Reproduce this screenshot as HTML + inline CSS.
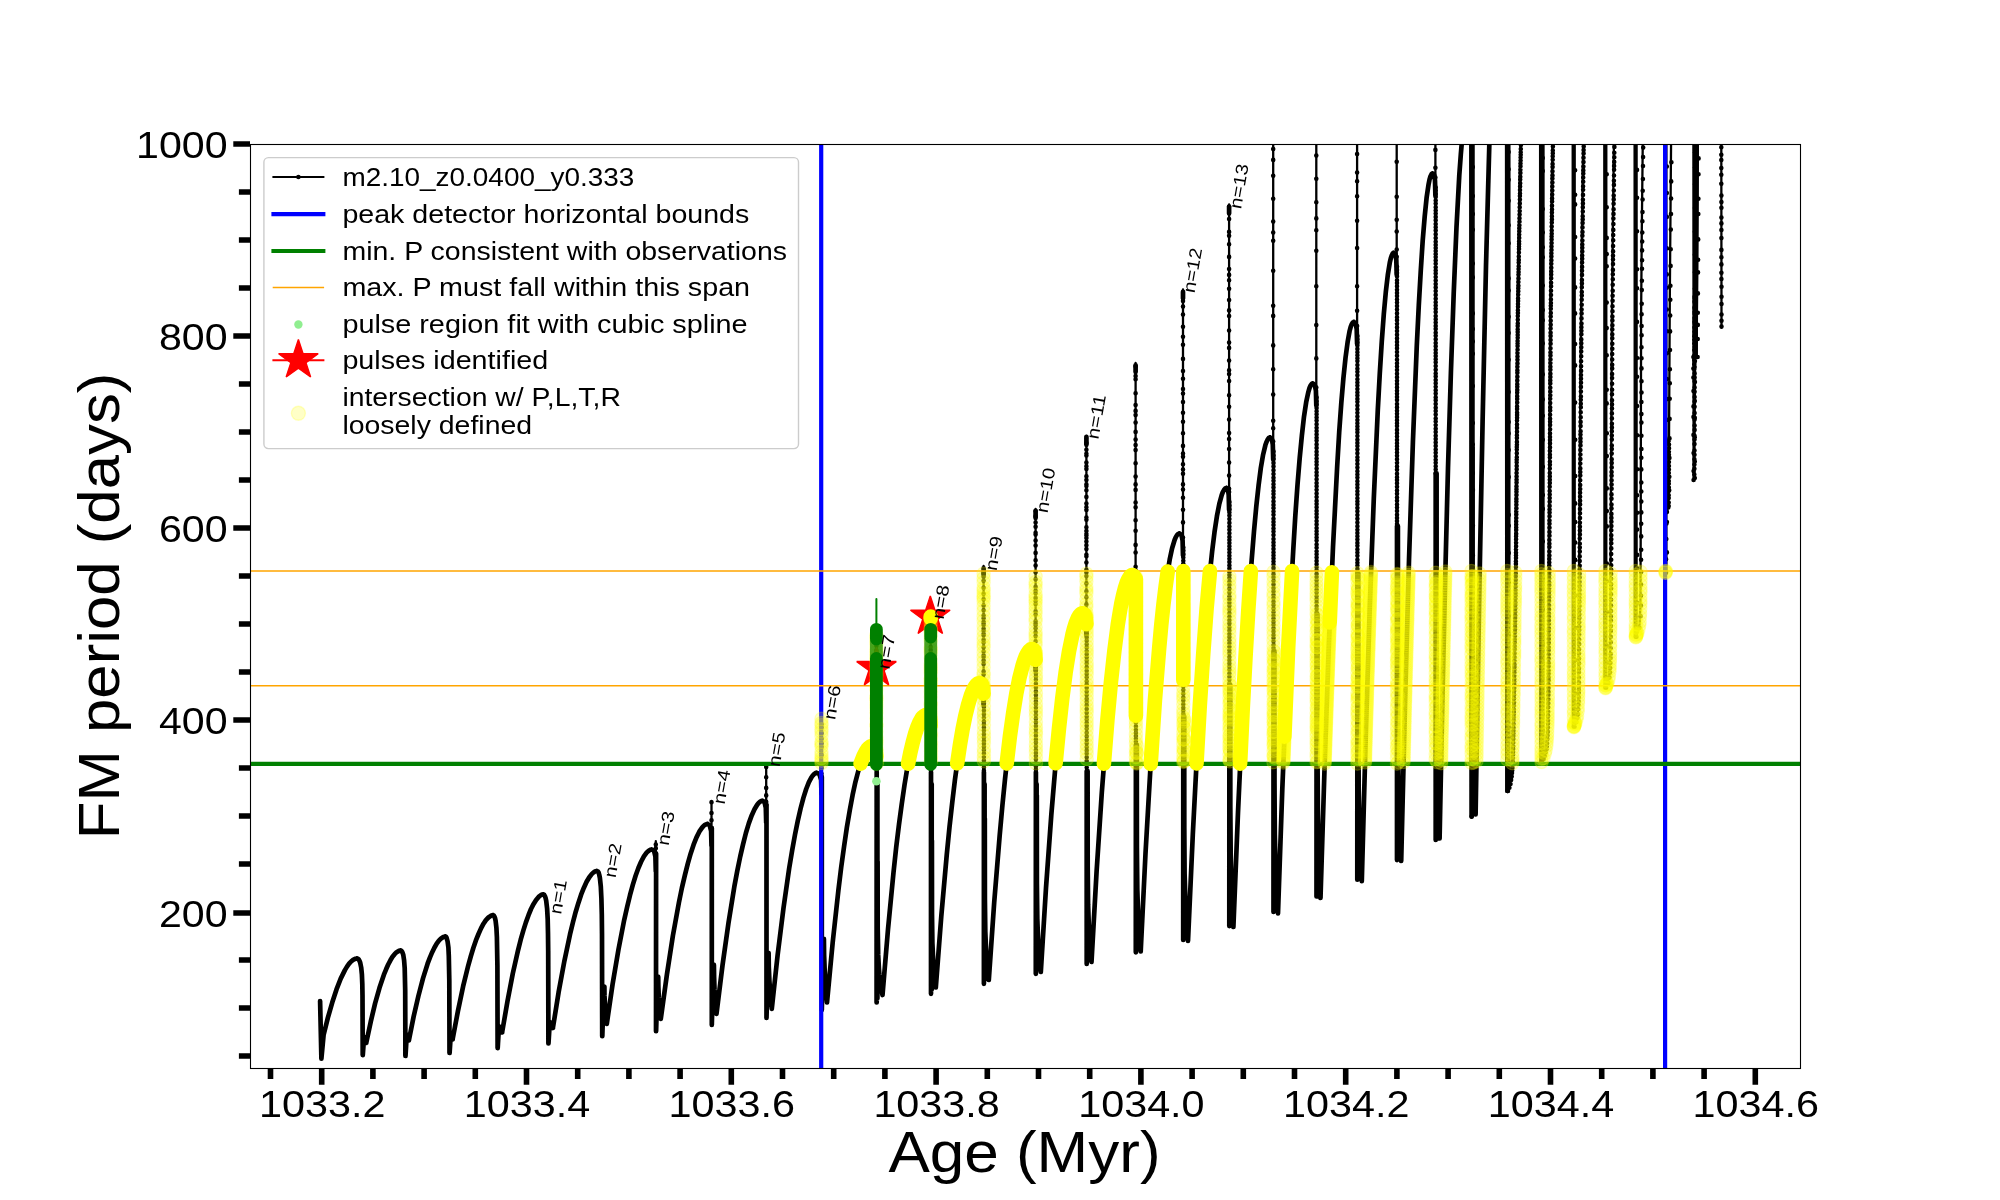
<!DOCTYPE html>
<html lang="en"><head><meta charset="utf-8"><title>FM period vs Age</title>
<style>html,body{margin:0;padding:0;background:#fff}svg{display:block}text{font-family:'Liberation Sans', sans-serif;fill:#000;filter:grayscale(1)}</style></head>
<body>
<svg width="2000" height="1200" viewBox="0 0 2000 1200">
<rect width="2000" height="1200" fill="#fff"/>
<defs><clipPath id="ax"><rect x="250.0" y="144.0" width="1550.0" height="924.0"/></clipPath></defs>
<g clip-path="url(#ax)">
<g fill="none" stroke="#000" stroke-linejoin="round" stroke-linecap="round">
<path stroke-width="4.7" d="M320.1 1001.0L321.4 1058.6M321.4 1058.6L323.6 1035.0M323.6 1035.0L327.9 1017.6L332.3 1002.3L336.5 989.4L340.7 978.6L344.9 970.1L347.0 966.6L349.1 963.7L351.1 961.5L353.1 959.9L355.1 958.9L356.9 958.5M356.9 958.5L357.9 958.8L358.8 959.6L359.5 960.9L360.2 962.7L361.2 967.6L361.9 974.6L362.3 983.8L362.5 995.2L362.7 1055.1M362.8 1055.1L364.1 1036.9L366.2 1042.9M366.2 1042.9L370.7 1021.9L375.1 1003.4L379.5 987.8L383.9 974.7L386.1 969.3L388.2 964.5L390.4 960.3L392.5 956.8L394.6 954.2L396.6 952.2L398.7 950.9L400.6 950.5M400.6 950.5L401.4 950.9L402.1 951.7L402.7 953.1L403.3 955.0L404.1 960.4L404.7 968.1L405.2 990.6L405.4 1056.0M405.5 1056.0L406.8 1034.3L408.9 1040.3M408.9 1040.3L413.6 1016.7L418.4 996.0L423.0 978.4L427.6 963.7L429.9 957.6L432.2 952.2L434.5 947.5L436.7 943.6L438.9 940.6L441.1 938.4L443.3 937.0L445.3 936.5M445.3 936.5L446.0 936.9L446.6 937.8L447.6 941.5L448.4 947.5L448.8 955.9L449.3 980.8L449.5 1053.0M449.6 1053.0L450.9 1033.4L452.6 1039.4M452.6 1039.4L457.9 1011.2L463.1 986.4L468.3 965.3L470.9 956.0L473.4 947.8L475.9 940.4L478.5 934.0L481.0 928.4L483.5 923.7L485.9 920.1L488.4 917.5L490.8 915.8L491.9 915.4L493.0 915.2M493.0 915.2L493.8 915.6L494.5 916.7L495.1 918.4L495.6 920.8L496.4 927.7L496.9 937.4L497.4 965.7L497.6 1048.1M497.7 1048.1L499.0 1026.4L502.1 1032.4M502.1 1032.4L507.5 1001.1L512.8 973.5L518.1 950.1L520.7 939.7L523.3 930.6L525.9 922.4L528.5 915.2L531.0 909.0L533.6 903.9L536.1 899.9L538.6 896.9L541.0 895.0L542.2 894.6L543.3 894.4M543.3 894.4L544.2 894.9L544.9 896.1L545.6 898.0L546.2 900.7L547.1 908.4L547.7 919.2L548.0 933.4L548.2 951.0L548.4 1043.4M548.5 1043.4L549.8 1022.0L552.9 1028.0M552.9 1028.0L558.6 992.3L564.4 960.9L570.0 934.4L572.9 922.5L575.6 912.2L578.4 902.9L581.1 894.7L583.9 887.7L586.6 881.8L589.3 877.2L591.9 873.9L593.3 872.6L594.6 871.7L595.8 871.2L597.0 871.0M597.0 871.0L597.9 871.5L598.7 872.8L599.3 875.0L599.9 878.0L600.8 886.5L601.4 898.5L601.8 914.2L602.0 933.8L602.2 1036.2M602.3 1036.2L603.3 1006.5L604.4 986.6L604.5 995.9L605.0 1005.2L605.8 1014.5L606.8 1023.8M606.8 1023.8L612.6 984.2L618.5 949.4L624.2 919.9L627.2 906.7L630.0 895.2L632.8 884.9L635.6 875.8L638.4 868.0L641.2 861.5L643.9 856.4L646.6 852.7L648.0 851.3L649.3 850.3L650.6 849.7L651.8 849.5M651.8 849.5L654.0 850.7L655.4 856.5L655.8 871.5M656.1 853.5L656.0 1031.2M656.1 1031.2L657.1 998.5L658.2 976.7L658.4 987.2L658.8 997.7L659.7 1008.3L660.8 1018.8M660.8 1018.8L666.9 974.6L672.9 935.6L678.9 902.7L681.9 887.9L684.9 875.1L687.8 863.6L690.7 853.4L693.6 844.7L696.5 837.4L699.3 831.7L702.1 827.6L703.5 826.0L704.9 824.9L706.2 824.3L707.5 824.0M707.5 824.0L709.7 825.2L711.1 831.0L711.5 846.0M711.8 828.0L711.8 1025.0M711.8 1025.0L712.8 988.8L713.9 964.7L714.1 977.0L714.5 989.2L715.4 1001.5L716.5 1013.8M716.5 1013.8L722.5 965.4L728.5 922.8L734.3 886.8L737.3 870.7L740.2 856.6L743.1 844.1L745.9 833.0L748.8 823.4L751.7 815.4L754.5 809.3L757.2 804.7L758.6 803.0L760.0 801.8L761.2 801.1L762.5 800.8M762.5 800.8L764.5 802.0L765.8 807.8L766.2 822.8M766.5 804.8L766.5 1018.0M766.5 1018.0L767.5 978.9L768.6 952.8L768.8 966.8L769.4 980.8L770.4 994.8L771.8 1008.8M771.8 1008.8L777.6 955.2L783.5 908.0L789.2 868.1L792.2 850.2L795.0 834.7L797.8 820.7L800.6 808.5L803.4 797.9L806.2 789.0L808.9 782.2L811.6 777.1L813.0 775.3L814.3 773.9L815.6 773.1L816.8 772.8M816.8 772.8L819.4 774.0L821.1 779.8L821.5 794.8M821.8 776.8L821.8 1010.0M821.8 1010.0L822.8 967.3L823.9 938.8L824.1 954.8L824.7 970.7L825.6 986.6L827.0 1002.5M827.0 1002.5L832.7 942.4L838.4 890.3L841.2 867.2L844.1 846.2L846.9 827.2L849.8 810.1L852.6 795.1L855.4 782.1L858.3 771.0L861.1 762.0L864.0 755.0L865.4 752.2L866.8 750.0L868.3 748.2L869.7 747.0L871.1 746.2L872.5 746.0M872.5 746.0L874.6 747.2L876.0 753.0L876.4 768.0M876.7 772.0L876.6 1002.5M877.4 784.0L877.4 998.5M876.7 1002.5L877.6 861.4L877.7 928.2L878.2 954.9L878.9 968.3L879.4 975.0L881.2 988.3L882.5 995.0M882.5 995.0L888.0 929.4L893.5 872.5L896.2 847.3L899.0 824.4L901.8 803.6L904.5 785.0L907.2 768.6L910.0 754.4L912.8 742.3L915.5 732.5L918.2 724.8L919.7 721.7L921.0 719.4L922.4 717.4L923.8 716.1L925.2 715.3L926.5 715.0M926.5 715.0L928.8 716.2L930.3 722.0L930.7 737.0M931.0 772.0L931.0 993.8M931.7 784.0L931.7 989.8M931.0 993.8L931.9 840.5L932.0 914.0L932.4 943.4L933.4 965.4L934.8 980.1L935.8 987.5M935.8 987.5L941.3 916.1L946.8 854.3L949.5 826.9L952.3 801.9L955.0 779.3L957.8 759.1L960.5 741.3L963.3 725.8L966.0 712.7L968.8 702.0L971.5 693.7L973.0 690.3L974.3 687.8L975.7 685.6L977.0 684.2L978.5 683.3L979.8 683.0M979.8 683.0L981.9 684.2L983.2 690.0L983.6 705.0M983.6 568.3L983.6 575.0M983.9 772.0L983.9 983.8M984.6 784.0L984.6 979.8M983.9 983.8L984.8 818.4L984.9 899.2L985.3 931.5L986.3 955.8L987.7 971.9L988.8 980.0M988.8 980.0L994.2 902.4L999.7 835.2L1002.4 805.4L1005.1 778.3L1007.8 753.7L1010.5 731.8L1013.3 712.4L1016.0 695.5L1018.7 681.3L1021.4 669.7L1024.1 660.6L1025.6 657.0L1026.9 654.2L1028.3 651.8L1029.6 650.3L1031.0 649.3L1032.3 649.0M1032.3 649.0L1034.1 650.2L1035.2 656.0L1035.6 671.0M1035.6 511.3L1035.6 518.0M1035.9 772.0L1035.8 973.8M1036.6 784.0L1036.6 969.8M1035.9 973.8L1036.8 795.2L1036.9 883.6L1037.3 918.9L1038.3 945.5L1039.7 963.2L1040.8 972.0M1040.8 972.0L1046.0 887.9L1051.3 815.0L1056.5 753.4L1059.1 726.7L1061.8 702.9L1064.4 681.9L1067.0 663.7L1069.6 648.2L1072.2 635.6L1074.8 625.8L1076.2 621.8L1077.5 618.8L1078.7 616.4L1080.1 614.6L1081.3 613.6L1082.7 613.2M1082.7 613.2L1084.7 614.4L1086.0 620.2L1086.4 635.2M1086.4 438.1L1086.4 444.8M1086.7 771.1L1086.7 964.0M1087.4 783.1L1087.4 960.0M1086.7 964.0L1087.6 771.1L1087.7 866.5L1088.1 904.7L1089.1 933.4L1090.5 952.5L1091.5 962.0M1091.5 962.0L1096.6 871.3L1101.8 792.7L1106.9 726.2L1109.4 697.4L1112.0 671.8L1114.6 649.1L1117.1 629.4L1119.7 612.8L1122.2 599.2L1124.8 588.6L1126.1 584.3L1127.4 581.0L1128.7 578.3L1129.9 576.5L1131.3 575.3L1132.5 575.0M1132.5 575.0L1134.2 576.2L1135.2 582.0L1135.6 597.0M1135.6 365.3L1135.6 372.0M1135.9 744.8L1135.8 952.3M1136.6 756.8L1136.6 948.3M1135.9 952.3L1136.8 744.8L1136.9 848.1L1137.3 889.5L1138.3 920.5L1139.7 941.2L1140.7 951.5M1140.7 951.5L1145.5 853.5L1150.4 768.6L1155.2 696.8L1157.6 665.8L1160.1 638.0L1162.5 613.5L1164.9 592.3L1167.3 574.3L1169.7 559.6L1172.1 548.2L1174.6 540.0L1175.8 537.1L1177.0 535.1L1178.2 533.9L1179.4 533.5M1179.4 533.5L1181.4 534.7L1182.6 540.5L1183.0 555.5M1183.0 291.8L1183.0 298.5M1183.3 716.4L1183.2 940.0M1184.0 728.4L1184.0 936.0M1183.3 940.0L1184.2 716.4L1184.3 828.6L1184.6 873.5L1185.6 907.1L1187.0 929.6L1188.0 940.8M1188.0 940.8L1192.8 834.7L1197.6 742.7L1202.4 664.9L1204.8 631.3L1207.2 601.2L1209.7 574.7L1212.1 551.7L1214.5 532.2L1216.9 516.3L1219.3 503.9L1221.7 495.1L1222.8 492.1L1224.1 489.8L1225.2 488.5L1226.5 488.0M1226.5 488.0L1227.9 489.2L1228.7 495.0L1229.1 510.0M1229.1 206.8L1229.1 213.5M1229.4 685.1L1229.3 926.1M1230.1 697.1L1230.1 922.1M1229.4 926.1L1230.3 685.1L1230.3 806.1L1230.7 854.4L1231.5 890.7L1232.6 914.9L1233.4 927.0M1233.4 927.0L1238.0 812.3L1242.6 712.8L1247.1 628.7L1249.4 592.4L1251.7 559.9L1254.0 531.2L1256.3 506.3L1258.6 485.3L1260.8 468.1L1263.1 454.7L1265.4 445.1L1266.5 441.9L1267.7 439.4L1268.8 438.0L1270.0 437.5M1270.0 437.5L1271.8 438.7L1272.8 444.5L1273.2 459.5M1273.5 651.0L1273.5 912.0M1274.2 663.0L1274.2 908.0M1273.5 912.0L1274.4 651.0L1274.5 782.2L1274.8 834.6L1275.8 874.0L1277.0 900.2L1278.0 913.3M1278.0 913.3L1282.3 789.1L1286.7 681.5L1291.0 590.5L1293.2 551.1L1295.3 516.0L1297.5 484.9L1299.7 458.0L1301.9 435.2L1304.0 416.6L1306.2 402.1L1308.4 391.8L1309.5 388.0L1310.5 385.6L1311.6 384.1L1312.2 383.6L1312.7 383.5M1312.7 383.5L1314.7 384.7L1315.9 390.5L1316.3 405.5M1316.6 614.3L1316.5 896.4M1317.3 626.3L1317.3 892.4M1316.6 896.4L1317.5 614.3L1317.5 756.2L1317.9 812.9L1318.6 855.4L1319.7 883.8L1320.5 898.0M1320.5 898.0L1324.7 763.0L1328.8 646.0L1333.0 547.0L1337.2 466.0L1339.2 432.2L1341.3 403.0L1343.4 378.2L1345.5 358.0L1347.6 342.2L1349.6 331.0L1350.7 326.9L1351.7 324.2L1352.8 322.5L1353.8 322.0M1353.8 322.0L1355.6 323.2L1356.7 329.0L1357.1 344.0M1357.4 573.0L1357.3 879.7M1358.1 585.0L1358.1 875.7M1357.4 879.7L1358.3 573.0L1358.4 727.1L1358.7 788.7L1359.6 835.0L1360.9 865.8L1361.8 881.2M1361.8 881.2L1365.8 733.9L1369.8 606.3L1373.8 498.3L1377.8 409.9L1379.8 373.1L1381.8 341.2L1383.8 314.2L1385.8 292.1L1387.8 274.9L1389.8 262.6L1390.8 258.2L1391.8 255.3L1392.8 253.4L1393.3 252.9L1393.8 252.8M1393.8 252.8L1395.4 254.0L1396.3 259.8L1396.7 274.8M1397.0 526.1L1397.0 860.1M1397.7 538.1L1397.7 856.1M1397.0 860.1L1397.9 526.1L1398.0 693.5L1398.3 760.5L1399.1 810.8L1400.3 844.3L1401.2 861.0M1401.2 861.0L1405.1 699.9L1409.0 560.2L1412.9 442.1L1416.8 345.4L1418.8 305.1L1420.8 270.2L1422.7 240.6L1424.7 216.5L1426.6 197.7L1428.6 184.2L1429.5 179.7L1430.5 176.2L1431.5 174.2L1432.0 173.7L1432.5 173.5M1432.5 173.5L1434.1 174.7L1435.0 180.5L1435.4 195.5M1435.7 473.4L1435.7 840.0M1436.4 485.4L1436.4 836.0M1435.7 840.0L1436.6 473.4L1436.6 656.0L1437.0 729.0L1437.7 783.7L1438.8 820.2L1439.6 838.5M1439.6 838.5L1442.4 699.5L1445.2 578.1L1448.0 468.0L1450.9 372.5L1453.7 293.6L1456.5 227.0L1459.3 175.0L1460.8 154.6L1462.2 138.0M1471.4 138.0L1471.6 816.6M1472.4 138.0L1472.4 812.6M1471.7 816.6L1472.6 446.7L1472.6 630.5L1473.0 704.1L1473.7 759.2L1474.8 796.0L1475.6 814.4M1475.6 814.4L1479.1 604.1L1482.6 421.2L1486.0 265.8L1489.5 138.0M1507.2 138.0L1507.4 791.0M1508.2 138.0L1508.2 787.0M1541.3 138.0L1541.5 762.0M1542.3 138.0L1542.3 758.0M1695.5 357.0L1696.7 138.0"/>
<path stroke-width="2.3" d="M655.8 853.5L655.8 841.2M711.5 828.0L711.5 800.8M766.2 804.8L766.2 765.0M821.5 776.8L821.5 716.0M876.4 750.0L876.4 632.0M876.7 760.0L876.7 772.0M930.7 719.0L930.7 613.0M931.0 729.0L931.0 772.0M983.6 687.0L983.6 566.0M983.9 697.0L983.9 772.0M1035.6 653.0L1035.6 509.0M1035.9 663.0L1035.9 772.0M1086.4 617.2L1086.4 435.8M1086.7 627.2L1086.7 771.1M1135.6 579.0L1135.6 363.0M1135.9 589.0L1135.9 744.8M1183.0 537.5L1183.0 289.5M1183.3 547.5L1183.3 716.4M1229.1 492.0L1229.1 204.5M1229.4 502.0L1229.4 685.1M1273.2 441.5L1273.2 136.0M1273.5 451.5L1273.5 651.0M1316.3 387.5L1316.3 136.0M1316.6 397.5L1316.6 614.3M1357.1 326.0L1357.1 136.0M1357.4 336.0L1357.4 573.0M1396.7 256.8L1396.7 136.0M1397.0 266.8L1397.0 526.1M1435.4 177.5L1435.4 136.0M1435.7 187.5L1435.7 473.4M1507.5 791.0L1509.7 785.4L1511.0 777.5L1511.3 775.6L1512.4 759.6L1513.5 699.6L1515.4 565.6L1517.3 317.6L1520.5 139.7M1541.6 762.0L1544.1 756.6L1546.0 748.8L1546.3 746.8L1547.4 728.9L1548.0 688.9L1550.2 318.9L1551.2 230.9L1552.5 138.9M1572.7 138.0L1572.9 726.7M1573.7 138.0L1573.8 726.7M1574.7 138.0L1574.7 725.7M1574.0 726.7L1575.6 723.0L1576.2 721.1L1577.6 713.2L1578.3 695.3L1580.0 441.3L1581.0 319.3L1582.0 229.3L1583.3 139.3M1604.3 138.0L1604.5 687.7M1605.3 138.0L1605.4 687.7M1606.3 138.0L1606.3 686.7M1605.6 687.7L1607.3 684.1L1607.9 682.2L1609.3 674.3L1610.1 654.3L1611.9 318.3L1612.8 230.4L1614.0 138.4M1634.6 138.0L1634.8 636.8M1635.6 138.0L1635.7 636.8M1636.6 138.0L1636.6 635.8M1635.9 636.8L1638.1 631.3L1639.6 623.4L1640.4 605.4L1640.7 539.4L1641.1 317.4L1641.8 229.4L1642.8 139.4M1664.4 138.0L1664.6 572.0M1665.4 138.0L1665.5 572.0M1666.4 138.0L1666.4 571.0M1665.5 572.8L1666.1 516.8L1667.3 508.9L1668.5 505.1L1668.8 479.1L1669.8 299.1L1671.1 139.1M1693.4 138.0L1693.6 480.0M1693.7 480.0L1694.6 295.2L1694.6 423.2L1694.3 478.0M1694.3 478.0L1694.5 138.0M1721.3 138.0L1721.5 327.7M1694.3 478.0L1696.6 138.0M1694.2 357.0L1695.4 138.0M1696.6 357.0L1697.8 138.0"/>
<path stroke-width="4.6" d="M655.8 853.5h0M655.8 848.2h0M655.8 844.6h0M711.5 828.0h0M711.5 820.3h0M711.5 813.0h0M711.5 802.3h0M766.2 804.8h0M766.2 801.9h0M766.2 795.4h0M766.2 787.9h0M766.2 777.2h0M766.2 767.0h0M821.5 776.8h0M821.5 773.7h0M821.5 768.0h0M821.5 765.7h0M821.5 755.0h0M821.5 746.9h0M821.5 743.4h0M821.5 738.8h0M821.5 733.3h0M821.5 727.6h0M821.5 724.3h0M876.4 750.0h0M876.4 748.9h0M876.4 746.7h0M876.4 744.6h0M876.4 740.5h0M876.4 735.3h0M876.4 732.3h0M876.4 727.2h0M876.4 721.8h0M876.4 716.5h0M876.4 713.9h0M876.4 712.0h0M876.4 710.0h0M876.4 708.2h0M876.4 706.3h0M876.4 702.5h0M876.4 697.5h0M876.4 692.8h0M876.4 689.7h0M876.4 685.8h0M876.4 681.3h0M876.4 679.9h0M876.4 676.0h0M876.4 671.0h0M876.4 666.5h0M876.4 662.2h0M876.4 659.1h0M876.4 657.3h0M876.4 652.8h0M876.4 650.4h0M876.4 645.8h0M876.4 640.5h0M876.4 637.8h0M876.4 635.0h0M876.7 760.0h0M876.7 763.6h0M876.7 767.1h0M876.7 770.3h0M930.7 719.0h0M930.7 715.5h0M930.7 710.3h0M930.7 705.6h0M930.7 704.0h0M930.7 702.5h0M930.7 699.6h0M930.7 698.3h0M930.7 696.3h0M930.7 695.0h0M930.7 691.0h0M930.7 686.6h0M930.7 681.6h0M930.7 679.9h0M930.7 675.8h0M930.7 671.8h0M930.7 670.2h0M930.7 665.3h0M930.7 660.0h0M930.7 658.1h0M930.7 652.9h0M930.7 650.1h0M930.7 647.0h0M930.7 641.6h0M930.7 636.9h0M930.7 635.2h0M930.7 632.3h0M930.7 629.0h0M930.7 626.6h0M930.7 624.7h0M930.7 622.3h0M930.7 618.1h0M930.7 617.1h0M930.7 613.7h0M931.0 729.0h0M931.0 731.9h0M931.0 735.0h0M931.0 738.2h0M931.0 741.4h0M931.0 745.1h0M931.0 748.3h0M931.0 751.7h0M931.0 754.8h0M931.0 758.0h0M931.0 760.9h0M931.0 764.1h0M931.0 767.0h0M931.0 770.6h0M983.6 687.0h0M983.6 679.4h0M983.6 674.5h0M983.6 671.5h0M983.6 663.9h0M983.6 660.5h0M983.6 656.9h0M983.6 655.5h0M983.6 651.6h0M983.6 647.2h0M983.6 642.6h0M983.6 639.9h0M983.6 635.3h0M983.6 633.9h0M983.6 630.8h0M983.6 628.8h0M983.6 624.9h0M983.6 623.2h0M983.6 621.7h0M983.6 618.3h0M983.6 615.5h0M983.6 610.3h0M983.6 605.5h0M983.6 599.3h0M983.6 593.7h0M983.6 587.7h0M983.6 580.7h0M983.6 576.8h0M983.6 573.3h0M983.9 697.0h0M983.9 700.4h0M983.9 703.7h0M983.9 707.1h0M983.9 710.6h0M983.9 714.3h0M983.9 717.8h0M983.9 721.4h0M983.9 724.3h0M983.9 727.4h0M983.9 730.5h0M983.9 734.2h0M983.9 737.4h0M983.9 740.9h0M983.9 743.8h0M983.9 746.7h0M983.9 749.9h0M983.9 753.4h0M983.9 757.0h0M983.9 760.6h0M983.9 763.8h0M983.9 767.2h0M983.9 770.6h0M1035.6 653.0h0M1035.6 649.1h0M1035.6 641.3h0M1035.6 636.1h0M1035.6 632.4h0M1035.6 628.3h0M1035.6 625.1h0M1035.6 623.4h0M1035.6 621.4h0M1035.6 614.6h0M1035.6 611.4h0M1035.6 604.0h0M1035.6 601.0h0M1035.6 597.9h0M1035.6 593.3h0M1035.6 590.7h0M1035.6 586.9h0M1035.6 579.3h0M1035.6 572.3h0M1035.6 565.6h0M1035.6 560.2h0M1035.6 552.9h0M1035.6 545.5h0M1035.6 540.6h0M1035.6 534.6h0M1035.6 532.9h0M1035.6 526.8h0M1035.6 522.5h0M1035.6 516.3h0M1035.6 510.7h0M1035.9 663.0h0M1035.9 666.8h0M1035.9 670.2h0M1035.9 673.7h0M1035.9 676.6h0M1035.9 679.8h0M1035.9 683.7h0M1035.9 687.4h0M1035.9 691.2h0M1035.9 695.1h0M1035.9 698.2h0M1035.9 701.2h0M1035.9 704.2h0M1035.9 707.7h0M1035.9 711.3h0M1035.9 715.1h0M1035.9 718.7h0M1035.9 722.3h0M1035.9 726.0h0M1035.9 729.3h0M1035.9 732.8h0M1035.9 735.7h0M1035.9 739.4h0M1035.9 742.5h0M1035.9 746.3h0M1035.9 749.9h0M1035.9 753.1h0M1035.9 756.1h0M1035.9 759.3h0M1035.9 762.8h0M1035.9 766.4h0M1035.9 769.4h0M1086.4 617.2h0M1086.4 615.4h0M1086.4 611.5h0M1086.4 604.4h0M1086.4 597.3h0M1086.4 591.2h0M1086.4 583.4h0M1086.4 576.0h0M1086.4 572.5h0M1086.4 569.9h0M1086.4 562.5h0M1086.4 556.3h0M1086.4 554.7h0M1086.4 549.1h0M1086.4 545.3h0M1086.4 541.5h0M1086.4 538.0h0M1086.4 535.5h0M1086.4 534.1h0M1086.4 530.9h0M1086.4 527.3h0M1086.4 519.7h0M1086.4 517.6h0M1086.4 510.0h0M1086.4 507.3h0M1086.4 503.6h0M1086.4 496.9h0M1086.4 490.2h0M1086.4 486.1h0M1086.4 484.4h0M1086.4 479.9h0M1086.4 476.2h0M1086.4 468.9h0M1086.4 466.2h0M1086.4 462.5h0M1086.4 455.4h0M1086.4 453.8h0M1086.4 449.8h0M1086.4 443.1h0M1086.4 436.8h0M1086.7 627.2h0M1086.7 630.8h0M1086.7 633.8h0M1086.7 637.5h0M1086.7 640.7h0M1086.7 644.2h0M1086.7 647.5h0M1086.7 651.1h0M1086.7 654.2h0M1086.7 657.3h0M1086.7 660.5h0M1086.7 663.5h0M1086.7 667.3h0M1086.7 670.8h0M1086.7 674.0h0M1086.7 677.3h0M1086.7 681.2h0M1086.7 684.6h0M1086.7 687.7h0M1086.7 691.5h0M1086.7 695.0h0M1086.7 698.9h0M1086.7 701.9h0M1086.7 705.3h0M1086.7 709.0h0M1086.7 712.8h0M1086.7 716.6h0M1086.7 719.5h0M1086.7 722.7h0M1086.7 725.7h0M1086.7 728.8h0M1086.7 732.7h0M1086.7 736.2h0M1086.7 740.0h0M1086.7 743.3h0M1086.7 747.0h0M1086.7 750.4h0M1086.7 753.6h0M1086.7 757.2h0M1086.7 761.1h0M1086.7 764.1h0M1086.7 767.6h0M1135.6 579.0h0M1135.6 570.2h0M1135.6 566.8h0M1135.6 552.5h0M1135.6 544.9h0M1135.6 530.8h0M1135.6 520.3h0M1135.6 507.2h0M1135.6 502.5h0M1135.6 489.9h0M1135.6 484.4h0M1135.6 476.6h0M1135.6 463.2h0M1135.6 450.1h0M1135.6 445.1h0M1135.6 439.6h0M1135.6 431.9h0M1135.6 422.6h0M1135.6 415.1h0M1135.6 410.9h0M1135.6 405.0h0M1135.6 393.2h0M1135.6 379.2h0M1135.6 376.0h0M1135.6 366.2h0M1135.9 589.0h0M1135.9 592.8h0M1135.9 595.9h0M1135.9 599.1h0M1135.9 602.5h0M1135.9 605.7h0M1135.9 608.6h0M1135.9 611.7h0M1135.9 614.8h0M1135.9 618.6h0M1135.9 622.2h0M1135.9 626.0h0M1135.9 629.1h0M1135.9 632.8h0M1135.9 635.8h0M1135.9 639.2h0M1135.9 642.7h0M1135.9 646.0h0M1135.9 649.8h0M1135.9 653.2h0M1135.9 656.7h0M1135.9 660.5h0M1135.9 663.5h0M1135.9 667.4h0M1135.9 670.9h0M1135.9 674.2h0M1135.9 677.9h0M1135.9 681.1h0M1135.9 685.0h0M1135.9 688.5h0M1135.9 691.7h0M1135.9 695.4h0M1135.9 698.7h0M1135.9 701.8h0M1135.9 705.5h0M1135.9 708.4h0M1135.9 712.1h0M1135.9 715.3h0M1135.9 718.8h0M1135.9 722.7h0M1135.9 726.2h0M1135.9 729.8h0M1135.9 733.0h0M1135.9 735.9h0M1135.9 738.8h0M1135.9 741.8h0M1183.0 537.5h0M1183.0 522.4h0M1183.0 509.7h0M1183.0 497.7h0M1183.0 489.6h0M1183.0 484.4h0M1183.0 473.7h0M1183.0 469.6h0M1183.0 464.3h0M1183.0 456.7h0M1183.0 453.6h0M1183.0 445.9h0M1183.0 433.2h0M1183.0 421.8h0M1183.0 412.8h0M1183.0 402.1h0M1183.0 393.5h0M1183.0 389.1h0M1183.0 378.8h0M1183.0 371.0h0M1183.0 358.9h0M1183.0 344.8h0M1183.0 336.7h0M1183.0 326.7h0M1183.0 314.6h0M1183.0 306.6h0M1183.0 301.0h0M1183.3 547.5h0M1183.3 550.6h0M1183.3 554.3h0M1183.3 557.6h0M1183.3 560.7h0M1183.3 563.7h0M1183.3 567.4h0M1183.3 571.1h0M1183.3 574.7h0M1183.3 578.0h0M1183.3 581.5h0M1183.3 584.6h0M1183.3 588.5h0M1183.3 591.7h0M1183.3 595.3h0M1183.3 599.0h0M1183.3 602.7h0M1183.3 606.1h0M1183.3 609.3h0M1183.3 612.7h0M1183.3 615.8h0M1183.3 619.5h0M1183.3 622.8h0M1183.3 626.5h0M1183.3 629.7h0M1183.3 632.9h0M1183.3 636.1h0M1183.3 639.4h0M1183.3 642.5h0M1183.3 645.4h0M1183.3 649.0h0M1183.3 652.2h0M1183.3 655.3h0M1183.3 658.5h0M1183.3 661.9h0M1183.3 665.2h0M1183.3 668.8h0M1183.3 672.3h0M1183.3 675.6h0M1183.3 679.4h0M1183.3 683.2h0M1183.3 686.2h0M1183.3 689.9h0M1183.3 693.7h0M1183.3 697.4h0M1183.3 700.4h0M1183.3 704.2h0M1183.3 707.7h0M1183.3 710.6h0M1183.3 713.5h0M1229.1 492.0h0M1229.1 488.8h0M1229.1 475.6h0M1229.1 462.6h0M1229.1 449.0h0M1229.1 439.1h0M1229.1 433.0h0M1229.1 419.5h0M1229.1 406.7h0M1229.1 395.3h0M1229.1 381.1h0M1229.1 374.1h0M1229.1 370.3h0M1229.1 360.6h0M1229.1 347.9h0M1229.1 342.6h0M1229.1 330.5h0M1229.1 316.0h0M1229.1 310.4h0M1229.1 300.0h0M1229.1 288.8h0M1229.1 280.2h0M1229.1 274.9h0M1229.1 269.0h0M1229.1 256.9h0M1229.1 244.2h0M1229.1 235.7h0M1229.1 231.9h0M1229.1 219.0h0M1229.1 206.6h0M1229.4 502.0h0M1229.4 505.5h0M1229.4 509.4h0M1229.4 512.4h0M1229.4 515.4h0M1229.4 519.1h0M1229.4 522.9h0M1229.4 526.5h0M1229.4 529.7h0M1229.4 533.2h0M1229.4 536.9h0M1229.4 539.9h0M1229.4 543.1h0M1229.4 546.2h0M1229.4 549.3h0M1229.4 552.6h0M1229.4 555.7h0M1229.4 558.8h0M1229.4 561.9h0M1229.4 565.4h0M1229.4 568.4h0M1229.4 572.0h0M1229.4 575.1h0M1229.4 578.0h0M1229.4 581.8h0M1229.4 584.9h0M1229.4 588.8h0M1229.4 592.6h0M1229.4 596.4h0M1229.4 599.4h0M1229.4 602.7h0M1229.4 605.7h0M1229.4 609.6h0M1229.4 613.3h0M1229.4 616.8h0M1229.4 620.2h0M1229.4 623.4h0M1229.4 627.2h0M1229.4 630.5h0M1229.4 634.1h0M1229.4 637.1h0M1229.4 640.2h0M1229.4 643.2h0M1229.4 646.8h0M1229.4 650.2h0M1229.4 653.3h0M1229.4 657.1h0M1229.4 660.2h0M1229.4 663.5h0M1229.4 666.6h0M1229.4 669.7h0M1229.4 673.5h0M1229.4 676.7h0M1229.4 679.8h0M1229.4 683.2h0M1273.2 441.5h0M1273.2 428.3h0M1273.2 420.8h0M1273.2 394.6h0M1273.2 369.2h0M1273.2 345.4h0M1273.2 315.9h0M1273.2 305.7h0M1273.2 270.8h0M1273.2 240.8h0M1273.2 232.5h0M1273.2 221.6h0M1273.2 198.8h0M1273.2 175.8h0M1273.2 159.9h0M1273.2 149.1h0M1273.5 451.5h0M1273.5 455.4h0M1273.5 459.1h0M1273.5 462.9h0M1273.5 466.4h0M1273.5 470.2h0M1273.5 474.0h0M1273.5 477.7h0M1273.5 480.7h0M1273.5 484.2h0M1273.5 487.4h0M1273.5 491.0h0M1273.5 494.1h0M1273.5 497.6h0M1273.5 501.4h0M1273.5 504.9h0M1273.5 508.1h0M1273.5 511.5h0M1273.5 514.8h0M1273.5 518.7h0M1273.5 521.9h0M1273.5 525.1h0M1273.5 528.6h0M1273.5 531.6h0M1273.5 535.1h0M1273.5 539.0h0M1273.5 542.4h0M1273.5 545.6h0M1273.5 548.9h0M1273.5 552.4h0M1273.5 555.4h0M1273.5 558.4h0M1273.5 561.5h0M1273.5 564.6h0M1273.5 567.9h0M1273.5 571.1h0M1273.5 574.3h0M1273.5 577.2h0M1273.5 580.7h0M1273.5 584.4h0M1273.5 588.0h0M1273.5 591.4h0M1273.5 595.0h0M1273.5 598.1h0M1273.5 601.7h0M1273.5 605.0h0M1273.5 608.5h0M1273.5 612.0h0M1273.5 615.4h0M1273.5 618.6h0M1273.5 621.7h0M1273.5 624.8h0M1273.5 628.3h0M1273.5 631.5h0M1273.5 635.0h0M1273.5 637.9h0M1273.5 641.2h0M1273.5 644.9h0M1273.5 648.1h0M1316.3 387.5h0M1316.3 358.4h0M1316.3 325.1h0M1316.3 286.3h0M1316.3 250.8h0M1316.3 230.3h0M1316.3 218.4h0M1316.3 202.2h0M1316.3 178.8h0M1316.3 155.6h0M1316.3 142.7h0M1316.6 397.5h0M1316.6 401.2h0M1316.6 404.4h0M1316.6 408.0h0M1316.6 411.3h0M1316.6 414.3h0M1316.6 417.5h0M1316.6 420.5h0M1316.6 424.3h0M1316.6 427.8h0M1316.6 431.0h0M1316.6 434.4h0M1316.6 437.7h0M1316.6 440.6h0M1316.6 444.4h0M1316.6 447.9h0M1316.6 451.8h0M1316.6 455.1h0M1316.6 458.6h0M1316.6 461.8h0M1316.6 464.7h0M1316.6 468.5h0M1316.6 472.3h0M1316.6 475.5h0M1316.6 479.3h0M1316.6 483.0h0M1316.6 486.2h0M1316.6 489.7h0M1316.6 493.6h0M1316.6 497.0h0M1316.6 500.9h0M1316.6 504.0h0M1316.6 507.3h0M1316.6 510.9h0M1316.6 514.0h0M1316.6 517.2h0M1316.6 521.0h0M1316.6 524.4h0M1316.6 528.1h0M1316.6 531.2h0M1316.6 534.3h0M1316.6 537.6h0M1316.6 540.6h0M1316.6 544.5h0M1316.6 547.7h0M1316.6 551.2h0M1316.6 554.2h0M1316.6 557.6h0M1316.6 560.9h0M1316.6 564.2h0M1316.6 567.2h0M1316.6 570.2h0M1316.6 573.9h0M1316.6 577.1h0M1316.6 580.3h0M1316.6 583.4h0M1316.6 586.6h0M1316.6 589.7h0M1316.6 592.6h0M1316.6 596.2h0M1316.6 599.4h0M1316.6 602.5h0M1316.6 606.1h0M1316.6 609.1h0M1316.6 612.2h0M1357.1 326.0h0M1357.1 310.7h0M1357.1 286.2h0M1357.1 248.1h0M1357.1 220.7h0M1357.1 196.2h0M1357.1 181.3h0M1357.1 172.5h0M1357.1 154.1h0M1357.4 336.0h0M1357.4 339.3h0M1357.4 342.4h0M1357.4 345.6h0M1357.4 348.9h0M1357.4 352.2h0M1357.4 355.3h0M1357.4 358.2h0M1357.4 361.1h0M1357.4 365.0h0M1357.4 368.7h0M1357.4 371.7h0M1357.4 375.3h0M1357.4 379.2h0M1357.4 382.6h0M1357.4 385.6h0M1357.4 389.0h0M1357.4 392.4h0M1357.4 395.4h0M1357.4 398.9h0M1357.4 401.8h0M1357.4 405.6h0M1357.4 409.2h0M1357.4 412.7h0M1357.4 416.5h0M1357.4 420.1h0M1357.4 423.2h0M1357.4 426.4h0M1357.4 429.4h0M1357.4 432.3h0M1357.4 436.0h0M1357.4 439.8h0M1357.4 442.9h0M1357.4 446.0h0M1357.4 449.6h0M1357.4 453.3h0M1357.4 457.2h0M1357.4 460.2h0M1357.4 463.9h0M1357.4 467.6h0M1357.4 471.3h0M1357.4 474.5h0M1357.4 477.6h0M1357.4 481.3h0M1357.4 484.5h0M1357.4 487.8h0M1357.4 491.3h0M1357.4 494.5h0M1357.4 498.3h0M1357.4 501.4h0M1357.4 504.3h0M1357.4 507.8h0M1357.4 511.3h0M1357.4 515.1h0M1357.4 518.7h0M1357.4 522.5h0M1357.4 526.3h0M1357.4 529.7h0M1357.4 533.1h0M1357.4 536.2h0M1357.4 539.4h0M1357.4 542.9h0M1357.4 545.8h0M1357.4 549.4h0M1357.4 552.5h0M1357.4 555.8h0M1357.4 559.7h0M1357.4 562.7h0M1357.4 565.6h0M1357.4 568.9h0M1357.4 572.0h0M1396.7 256.8h0M1396.7 249.5h0M1396.7 231.5h0M1396.7 219.8h0M1396.7 196.7h0M1396.7 161.7h0M1397.0 266.8h0M1397.0 270.0h0M1397.0 272.9h0M1397.0 276.3h0M1397.0 280.2h0M1397.0 283.1h0M1397.0 286.2h0M1397.0 289.7h0M1397.0 292.9h0M1397.0 296.1h0M1397.0 299.5h0M1397.0 302.6h0M1397.0 306.1h0M1397.0 309.5h0M1397.0 313.4h0M1397.0 317.3h0M1397.0 320.2h0M1397.0 323.7h0M1397.0 327.4h0M1397.0 331.1h0M1397.0 334.8h0M1397.0 338.4h0M1397.0 341.9h0M1397.0 345.2h0M1397.0 348.3h0M1397.0 352.0h0M1397.0 355.8h0M1397.0 359.7h0M1397.0 363.3h0M1397.0 366.5h0M1397.0 370.1h0M1397.0 373.8h0M1397.0 377.2h0M1397.0 380.7h0M1397.0 384.0h0M1397.0 387.4h0M1397.0 390.7h0M1397.0 393.7h0M1397.0 396.9h0M1397.0 400.1h0M1397.0 404.0h0M1397.0 407.4h0M1397.0 410.7h0M1397.0 413.8h0M1397.0 416.9h0M1397.0 420.2h0M1397.0 423.2h0M1397.0 426.1h0M1397.0 429.9h0M1397.0 433.2h0M1397.0 436.6h0M1397.0 440.1h0M1397.0 443.2h0M1397.0 446.3h0M1397.0 449.3h0M1397.0 452.5h0M1397.0 455.7h0M1397.0 459.3h0M1397.0 462.8h0M1397.0 466.6h0M1397.0 469.8h0M1397.0 473.7h0M1397.0 477.2h0M1397.0 480.1h0M1397.0 483.2h0M1397.0 486.7h0M1397.0 490.6h0M1397.0 493.8h0M1397.0 497.5h0M1397.0 500.8h0M1397.0 504.6h0M1397.0 507.6h0M1397.0 511.0h0M1397.0 514.8h0M1397.0 517.9h0M1397.0 521.1h0M1397.0 524.0h0M1435.4 177.5h0M1435.4 167.7h0M1435.4 149.9h0M1435.7 187.5h0M1435.7 190.5h0M1435.7 193.9h0M1435.7 196.9h0M1435.7 200.5h0M1435.7 203.6h0M1435.7 207.2h0M1435.7 210.6h0M1435.7 213.6h0M1435.7 216.9h0M1435.7 220.3h0M1435.7 224.1h0M1435.7 227.3h0M1435.7 230.4h0M1435.7 234.3h0M1435.7 238.1h0M1435.7 241.7h0M1435.7 244.9h0M1435.7 248.0h0M1435.7 251.1h0M1435.7 254.1h0M1435.7 257.0h0M1435.7 260.4h0M1435.7 263.7h0M1435.7 267.2h0M1435.7 270.5h0M1435.7 273.4h0M1435.7 277.0h0M1435.7 280.5h0M1435.7 284.0h0M1435.7 287.4h0M1435.7 291.0h0M1435.7 294.9h0M1435.7 298.7h0M1435.7 302.3h0M1435.7 305.6h0M1435.7 308.8h0M1435.7 312.1h0M1435.7 316.0h0M1435.7 319.3h0M1435.7 322.6h0M1435.7 325.9h0M1435.7 328.9h0M1435.7 332.8h0M1435.7 335.7h0M1435.7 339.2h0M1435.7 343.1h0M1435.7 346.2h0M1435.7 349.7h0M1435.7 353.0h0M1435.7 356.1h0M1435.7 359.2h0M1435.7 362.2h0M1435.7 366.0h0M1435.7 369.7h0M1435.7 373.5h0M1435.7 376.4h0M1435.7 380.0h0M1435.7 383.3h0M1435.7 386.8h0M1435.7 390.3h0M1435.7 393.5h0M1435.7 397.4h0M1435.7 400.2h0M1435.7 403.9h0M1435.7 407.7h0M1435.7 411.1h0M1435.7 414.6h0M1435.7 418.5h0M1435.7 421.6h0M1435.7 425.1h0M1435.7 428.8h0M1435.7 432.1h0M1435.7 435.7h0M1435.7 439.0h0M1435.7 442.4h0M1435.7 445.9h0M1435.7 449.5h0M1435.7 452.7h0M1435.7 456.2h0M1435.7 459.7h0M1435.7 462.8h0M1435.7 466.3h0M1435.7 469.5h0M1435.7 473.3h0M1472.8 167.0h0M1472.8 196.0h0M1472.8 214.1h0M1472.8 229.8h0M1472.8 263.6h0M1472.8 277.4h0M1472.8 313.4h0M1472.8 329.0h0M1472.8 341.5h0M1472.8 353.8h0M1472.8 386.0h0M1472.8 423.0h0M1472.8 444.5h0M1472.8 473.1h0M1472.9 490.1h0M1472.9 525.8h0M1472.9 555.2h0M1472.9 569.2h0M1472.9 580.4h0M1472.9 610.1h0M1472.9 620.9h0M1472.9 654.6h0M1472.9 672.6h0M1472.9 688.9h0M1472.9 715.3h0M1472.9 734.1h0M1472.9 759.8h0M1472.9 773.8h0M1472.9 809.7h0M1471.6 816.6h0M1508.6 152.0h0M1508.6 169.2h0M1508.6 179.7h0M1508.6 200.7h0M1508.6 225.2h0M1508.6 243.2h0M1508.6 278.4h0M1508.6 290.5h0M1508.6 316.7h0M1508.6 333.1h0M1508.6 359.8h0M1508.6 392.0h0M1508.6 422.0h0M1508.6 433.4h0M1508.6 450.1h0M1508.7 477.0h0M1508.7 514.9h0M1508.7 525.7h0M1508.7 553.1h0M1508.7 582.6h0M1508.7 615.7h0M1508.7 635.1h0M1508.7 668.1h0M1508.7 691.0h0M1508.7 727.1h0M1508.7 737.0h0M1508.7 773.7h0M1507.4 791.0h0M1508.0 791.0h0M1509.4 787.7h0M1510.5 783.9h0M1511.1 780.1h0M1511.7 776.6h0M1512.0 773.1h0M1512.2 770.6h0M1512.4 767.9h0M1512.5 765.4h0M1512.8 761.7h0M1512.9 758.1h0M1513.0 754.7h0M1513.0 751.9h0M1513.1 748.9h0M1513.2 746.3h0M1513.2 742.8h0M1513.3 738.9h0M1513.3 736.0h0M1513.4 733.5h0M1513.4 730.8h0M1513.5 727.8h0M1513.6 724.0h0M1513.6 720.3h0M1513.7 717.2h0M1513.7 714.6h0M1513.8 712.1h0M1513.8 709.4h0M1513.9 705.8h0M1514.0 702.6h0M1514.0 698.6h0M1514.1 694.8h0M1514.1 691.1h0M1514.2 687.9h0M1514.2 684.2h0M1514.3 681.6h0M1514.3 679.1h0M1514.3 675.8h0M1514.4 672.5h0M1514.4 669.8h0M1514.5 667.0h0M1514.5 664.6h0M1514.5 660.7h0M1514.6 657.2h0M1514.6 653.3h0M1514.7 649.3h0M1514.7 646.2h0M1514.8 642.6h0M1514.8 639.6h0M1514.9 635.9h0M1514.9 632.2h0M1515.0 629.6h0M1515.0 627.1h0M1515.0 624.4h0M1515.1 621.1h0M1515.1 618.0h0M1515.2 615.6h0M1515.2 611.9h0M1515.3 608.3h0M1515.3 605.1h0M1515.4 602.6h0M1515.4 598.8h0M1515.5 595.6h0M1515.5 593.0h0M1515.5 590.1h0M1515.6 586.7h0M1515.6 582.9h0M1515.7 579.7h0M1515.7 576.3h0M1515.8 573.6h0M1515.8 570.8h0M1515.9 567.0h0M1515.9 563.9h0M1515.9 561.4h0M1516.0 558.0h0M1516.0 555.4h0M1516.0 552.7h0M1516.0 549.6h0M1516.1 546.2h0M1516.1 542.8h0M1516.1 539.3h0M1516.1 536.2h0M1516.2 533.7h0M1516.2 530.1h0M1516.2 527.6h0M1516.2 524.5h0M1516.2 521.4h0M1516.3 518.0h0M1516.3 514.4h0M1516.3 511.6h0M1516.4 508.2h0M1516.4 504.7h0M1516.4 501.5h0M1516.4 498.9h0M1516.5 495.1h0M1516.5 491.7h0M1516.5 489.2h0M1516.5 486.4h0M1516.6 482.4h0M1516.6 479.7h0M1516.6 476.6h0M1516.6 473.0h0M1516.7 469.3h0M1516.7 465.9h0M1516.7 462.3h0M1516.7 459.8h0M1516.8 457.3h0M1516.8 453.3h0M1516.8 449.6h0M1516.8 447.1h0M1516.9 444.7h0M1516.9 441.9h0M1516.9 438.0h0M1516.9 435.2h0M1517.0 431.8h0M1517.0 427.9h0M1517.0 424.5h0M1517.0 420.6h0M1517.1 417.8h0M1517.1 415.1h0M1517.1 412.7h0M1517.1 409.1h0M1517.1 406.5h0M1517.2 402.6h0M1517.2 399.0h0M1517.2 396.3h0M1517.2 392.6h0M1517.3 390.0h0M1517.3 386.8h0M1517.3 384.2h0M1517.3 380.5h0M1517.4 376.7h0M1517.4 372.8h0M1517.4 370.4h0M1517.4 366.7h0M1517.5 363.4h0M1517.5 359.7h0M1517.5 356.5h0M1517.5 353.1h0M1517.6 349.7h0M1517.6 346.0h0M1517.6 343.5h0M1517.6 341.0h0M1517.7 337.8h0M1517.7 334.9h0M1517.7 331.9h0M1517.7 329.4h0M1517.7 325.9h0M1517.8 323.4h0M1517.8 319.7h0M1517.8 316.0h0M1517.9 312.9h0M1517.9 310.3h0M1518.0 306.8h0M1518.0 304.1h0M1518.1 301.0h0M1518.1 298.4h0M1518.2 294.5h0M1518.3 291.2h0M1518.3 288.2h0M1518.4 285.7h0M1518.4 282.1h0M1518.5 278.4h0M1518.5 274.6h0M1518.6 272.0h0M1518.6 269.0h0M1518.7 266.2h0M1518.7 262.5h0M1518.8 259.9h0M1518.8 256.5h0M1518.9 252.6h0M1519.0 248.9h0M1519.0 246.5h0M1519.1 244.0h0M1519.1 241.4h0M1519.2 237.9h0M1519.2 234.6h0M1519.3 231.3h0M1519.3 228.2h0M1519.4 225.2h0M1519.5 221.8h0M1519.5 218.3h0M1519.6 214.5h0M1519.7 210.9h0M1519.7 207.2h0M1519.8 203.4h0M1519.9 199.6h0M1519.9 196.1h0M1520.0 193.6h0M1520.0 190.1h0M1520.1 186.4h0M1520.2 183.3h0M1520.2 179.5h0M1520.3 176.8h0M1520.4 172.9h0M1520.4 169.8h0M1520.5 166.3h0M1520.5 163.5h0M1520.6 160.6h0M1520.6 157.6h0M1520.7 154.7h0M1520.7 152.2h0M1520.8 149.0h0M1520.9 145.1h0M1520.9 141.6h0M1542.7 158.0h0M1542.7 171.1h0M1542.7 209.0h0M1542.7 232.5h0M1542.7 247.2h0M1542.7 257.2h0M1542.7 285.6h0M1542.7 310.0h0M1542.7 320.3h0M1542.7 343.4h0M1542.7 374.4h0M1542.7 399.4h0M1542.7 415.8h0M1542.7 439.7h0M1542.8 466.8h0M1542.8 495.1h0M1542.8 508.9h0M1542.8 541.6h0M1542.8 578.5h0M1542.8 609.4h0M1542.8 643.7h0M1542.8 663.9h0M1542.8 699.5h0M1542.8 714.3h0M1542.8 730.4h0M1542.8 757.3h0M1541.5 762.0h0M1542.1 762.0h0M1543.6 759.0h0M1544.8 755.8h0M1545.6 752.6h0M1546.4 749.3h0M1546.8 746.5h0M1547.0 743.4h0M1547.3 739.0h0M1547.5 735.6h0M1547.8 731.8h0M1547.9 727.5h0M1548.0 723.4h0M1548.0 720.3h0M1548.1 715.9h0M1548.2 711.8h0M1548.2 707.3h0M1548.3 703.3h0M1548.4 699.2h0M1548.4 695.0h0M1548.5 691.9h0M1548.5 688.0h0M1548.5 684.6h0M1548.6 680.4h0M1548.6 677.5h0M1548.6 673.8h0M1548.6 670.5h0M1548.6 666.3h0M1548.7 663.0h0M1548.7 658.8h0M1548.7 654.6h0M1548.7 650.3h0M1548.7 647.3h0M1548.8 642.9h0M1548.8 638.9h0M1548.8 635.0h0M1548.8 631.1h0M1548.9 628.3h0M1548.9 624.0h0M1548.9 620.4h0M1548.9 616.8h0M1548.9 613.5h0M1549.0 609.4h0M1549.0 605.3h0M1549.0 601.0h0M1549.1 598.0h0M1549.1 594.7h0M1549.1 591.5h0M1549.1 588.6h0M1549.2 585.3h0M1549.2 582.6h0M1549.2 578.5h0M1549.2 575.3h0M1549.2 572.5h0M1549.3 569.7h0M1549.3 565.7h0M1549.3 562.6h0M1549.3 559.1h0M1549.4 555.6h0M1549.4 551.5h0M1549.4 547.1h0M1549.4 543.8h0M1549.4 540.0h0M1549.5 535.7h0M1549.5 532.1h0M1549.5 527.8h0M1549.5 523.8h0M1549.5 520.5h0M1549.6 516.3h0M1549.6 512.5h0M1549.6 509.6h0M1549.6 505.9h0M1549.7 501.7h0M1549.7 498.1h0M1549.7 494.5h0M1549.7 491.0h0M1549.7 486.8h0M1549.8 482.9h0M1549.8 479.8h0M1549.8 476.4h0M1549.8 473.1h0M1549.8 468.6h0M1549.9 464.7h0M1549.9 461.8h0M1549.9 457.4h0M1549.9 454.7h0M1549.9 450.9h0M1550.0 447.4h0M1550.0 443.4h0M1550.0 440.0h0M1550.0 437.1h0M1550.0 433.4h0M1550.1 429.3h0M1550.1 425.1h0M1550.1 421.8h0M1550.1 418.7h0M1550.1 414.7h0M1550.2 410.5h0M1550.2 407.4h0M1550.2 403.1h0M1550.2 398.7h0M1550.3 395.2h0M1550.3 391.8h0M1550.3 387.8h0M1550.3 383.4h0M1550.3 380.4h0M1550.4 377.1h0M1550.4 373.8h0M1550.4 369.8h0M1550.4 366.8h0M1550.4 363.1h0M1550.5 359.5h0M1550.5 355.6h0M1550.5 352.6h0M1550.5 348.2h0M1550.6 343.7h0M1550.6 340.0h0M1550.6 335.9h0M1550.6 332.8h0M1550.6 328.5h0M1550.7 324.8h0M1550.7 320.7h0M1550.7 316.5h0M1550.8 313.1h0M1550.8 308.8h0M1550.8 305.7h0M1550.9 303.0h0M1550.9 299.4h0M1551.0 295.0h0M1551.0 290.7h0M1551.1 286.3h0M1551.1 282.7h0M1551.2 278.3h0M1551.2 274.6h0M1551.2 271.6h0M1551.3 267.8h0M1551.3 263.7h0M1551.4 260.2h0M1551.4 256.4h0M1551.4 253.2h0M1551.5 250.0h0M1551.5 246.6h0M1551.6 243.0h0M1551.6 239.4h0M1551.6 236.6h0M1551.7 233.8h0M1551.7 230.5h0M1551.7 226.5h0M1551.8 222.5h0M1551.9 219.4h0M1551.9 216.2h0M1551.9 212.6h0M1552.0 209.6h0M1552.0 205.8h0M1552.1 201.5h0M1552.1 198.4h0M1552.2 194.6h0M1552.3 190.6h0M1552.3 186.6h0M1552.4 182.6h0M1552.4 178.6h0M1552.5 175.4h0M1552.5 171.2h0M1552.6 166.9h0M1552.6 164.1h0M1552.7 159.7h0M1552.7 156.2h0M1552.8 153.3h0M1552.8 150.5h0M1552.9 146.4h0M1552.9 142.4h0M1575.1 170.2h0M1575.1 194.7h0M1575.1 204.4h0M1575.1 237.0h0M1575.1 258.5h0M1575.1 287.4h0M1575.1 313.4h0M1575.1 344.0h0M1575.1 365.4h0M1575.1 402.6h0M1575.2 439.7h0M1575.2 476.1h0M1575.2 503.4h0M1575.2 522.1h0M1575.2 542.6h0M1575.2 559.9h0M1575.2 595.5h0M1575.2 628.0h0M1575.2 660.3h0M1575.2 693.5h0M1573.9 726.7h0M1574.5 726.7h0M1576.4 722.1h0M1577.3 717.7h0M1577.9 714.3h0M1578.2 709.3h0M1578.4 704.7h0M1578.6 701.3h0M1578.7 697.3h0M1578.8 692.8h0M1578.8 689.6h0M1578.8 686.4h0M1578.9 682.5h0M1578.9 677.5h0M1578.9 672.3h0M1578.9 668.4h0M1579.0 663.4h0M1579.0 658.6h0M1579.0 653.6h0M1579.0 649.2h0M1579.1 644.0h0M1579.1 639.5h0M1579.1 634.4h0M1579.2 630.1h0M1579.2 626.5h0M1579.2 622.3h0M1579.3 618.1h0M1579.3 614.2h0M1579.3 610.3h0M1579.4 606.1h0M1579.4 601.7h0M1579.4 598.1h0M1579.4 594.4h0M1579.5 590.1h0M1579.5 585.9h0M1579.5 581.9h0M1579.6 577.4h0M1579.6 573.8h0M1579.6 569.6h0M1579.7 565.8h0M1579.7 561.1h0M1579.7 556.4h0M1579.8 551.6h0M1579.8 547.4h0M1579.8 543.7h0M1579.8 538.6h0M1579.9 534.4h0M1579.9 530.5h0M1579.9 526.7h0M1579.9 522.7h0M1580.0 518.1h0M1580.0 513.2h0M1580.0 509.1h0M1580.1 504.4h0M1580.1 500.8h0M1580.1 496.7h0M1580.1 492.8h0M1580.2 489.0h0M1580.2 485.1h0M1580.2 480.3h0M1580.3 475.6h0M1580.3 472.1h0M1580.3 468.4h0M1580.3 463.6h0M1580.4 459.1h0M1580.4 454.5h0M1580.4 450.0h0M1580.5 445.4h0M1580.5 441.7h0M1580.5 438.4h0M1580.5 434.5h0M1580.6 431.3h0M1580.6 426.1h0M1580.6 421.9h0M1580.7 417.3h0M1580.7 412.2h0M1580.8 407.3h0M1580.8 403.7h0M1580.8 399.8h0M1580.9 396.5h0M1580.9 391.6h0M1580.9 386.9h0M1581.0 382.8h0M1581.0 378.8h0M1581.0 375.1h0M1581.1 370.9h0M1581.1 366.3h0M1581.1 361.3h0M1581.2 356.3h0M1581.2 351.4h0M1581.3 347.3h0M1581.3 343.3h0M1581.3 339.4h0M1581.4 334.3h0M1581.4 330.7h0M1581.4 327.2h0M1581.5 323.5h0M1581.5 318.4h0M1581.6 313.5h0M1581.6 309.6h0M1581.7 304.7h0M1581.7 299.7h0M1581.8 295.6h0M1581.8 292.1h0M1581.8 287.3h0M1581.9 283.4h0M1581.9 280.0h0M1582.0 274.9h0M1582.0 270.8h0M1582.1 266.9h0M1582.1 262.5h0M1582.2 258.8h0M1582.2 255.6h0M1582.3 251.6h0M1582.3 247.7h0M1582.3 244.5h0M1582.4 240.6h0M1582.4 235.8h0M1582.5 232.0h0M1582.5 227.4h0M1582.6 222.9h0M1582.7 219.4h0M1582.7 216.2h0M1582.8 211.6h0M1582.8 207.2h0M1582.9 203.4h0M1582.9 199.8h0M1583.0 194.9h0M1583.1 189.8h0M1583.1 186.2h0M1583.2 181.8h0M1583.2 177.5h0M1583.3 173.6h0M1583.3 170.4h0M1583.4 166.6h0M1583.5 162.1h0M1583.5 157.7h0M1583.6 153.4h0M1583.6 150.0h0M1583.7 146.4h0M1583.7 142.6h0M1606.7 174.3h0M1606.7 207.2h0M1606.7 237.9h0M1606.7 254.1h0M1606.7 266.3h0M1606.7 302.6h0M1606.7 328.1h0M1606.7 355.3h0M1606.7 389.7h0M1606.7 403.4h0M1606.8 433.2h0M1606.8 456.1h0M1606.8 488.4h0M1606.8 511.1h0M1606.8 526.4h0M1606.8 563.5h0M1606.8 581.2h0M1606.8 612.3h0M1606.8 645.8h0M1606.8 662.6h0M1605.5 687.7h0M1606.1 687.7h0M1608.2 682.9h0M1609.3 677.6h0M1610.0 672.5h0M1610.1 667.9h0M1610.3 663.0h0M1610.5 658.1h0M1610.6 654.1h0M1610.6 648.2h0M1610.7 642.3h0M1610.7 636.8h0M1610.8 630.9h0M1610.8 626.1h0M1610.9 620.5h0M1610.9 616.3h0M1610.9 611.0h0M1611.0 605.6h0M1611.0 599.8h0M1611.0 594.2h0M1611.1 588.5h0M1611.1 584.2h0M1611.1 578.8h0M1611.1 574.0h0M1611.2 569.7h0M1611.2 565.2h0M1611.2 559.7h0M1611.2 554.0h0M1611.3 548.4h0M1611.3 543.2h0M1611.3 539.2h0M1611.3 535.2h0M1611.3 530.3h0M1611.4 526.1h0M1611.4 521.7h0M1611.4 517.9h0M1611.4 513.9h0M1611.5 508.6h0M1611.5 504.5h0M1611.5 498.8h0M1611.5 494.4h0M1611.6 488.8h0M1611.6 484.5h0M1611.6 480.2h0M1611.6 475.7h0M1611.6 472.1h0M1611.7 467.4h0M1611.7 462.9h0M1611.7 459.3h0M1611.7 453.6h0M1611.8 449.1h0M1611.8 445.5h0M1611.8 439.6h0M1611.8 435.5h0M1611.8 431.2h0M1611.9 427.6h0M1611.9 423.7h0M1611.9 418.4h0M1611.9 413.4h0M1612.0 408.6h0M1612.0 404.4h0M1612.0 400.2h0M1612.0 394.2h0M1612.1 389.7h0M1612.1 383.8h0M1612.1 378.0h0M1612.1 374.1h0M1612.2 368.5h0M1612.2 364.8h0M1612.2 359.5h0M1612.2 354.0h0M1612.3 348.7h0M1612.3 343.8h0M1612.3 338.3h0M1612.3 334.3h0M1612.3 329.4h0M1612.4 325.2h0M1612.4 320.6h0M1612.4 316.5h0M1612.5 311.2h0M1612.5 306.3h0M1612.6 300.8h0M1612.6 295.7h0M1612.7 290.7h0M1612.7 284.8h0M1612.8 279.3h0M1612.8 274.3h0M1612.9 269.9h0M1613.0 264.1h0M1613.0 259.6h0M1613.0 255.8h0M1613.1 251.4h0M1613.1 246.1h0M1613.2 240.3h0M1613.2 235.1h0M1613.3 229.9h0M1613.4 224.1h0M1613.4 218.6h0M1613.5 213.9h0M1613.6 209.2h0M1613.6 203.8h0M1613.7 199.4h0M1613.7 195.6h0M1613.8 190.5h0M1613.9 184.9h0M1613.9 180.8h0M1614.0 175.5h0M1614.1 169.8h0M1614.1 165.9h0M1614.2 161.9h0M1614.3 157.2h0M1614.3 152.8h0M1614.4 146.9h0M1637.0 169.9h0M1637.0 197.7h0M1637.0 231.3h0M1637.0 269.3h0M1637.0 288.3h0M1637.0 321.9h0M1637.0 358.0h0M1637.0 376.7h0M1637.1 406.0h0M1637.1 435.3h0M1637.1 469.3h0M1637.1 495.2h0M1637.1 512.8h0M1637.1 529.6h0M1637.1 554.9h0M1637.1 568.4h0M1637.1 602.7h0M1635.8 636.8h0M1636.4 636.8h0M1639.3 627.7h0M1640.5 616.3h0M1640.9 605.6h0M1640.9 595.7h0M1641.0 584.6h0M1641.1 572.1h0M1641.1 559.8h0M1641.2 549.7h0M1641.2 536.4h0M1641.2 523.8h0M1641.3 512.4h0M1641.3 501.6h0M1641.3 491.5h0M1641.3 482.5h0M1641.3 469.4h0M1641.3 457.8h0M1641.4 449.0h0M1641.4 435.7h0M1641.4 422.6h0M1641.4 414.1h0M1641.4 402.0h0M1641.5 392.5h0M1641.5 381.3h0M1641.5 368.4h0M1641.5 358.2h0M1641.5 347.3h0M1641.6 335.3h0M1641.6 326.0h0M1641.6 314.3h0M1641.7 303.8h0M1641.8 290.1h0M1641.9 280.8h0M1642.0 268.7h0M1642.1 260.2h0M1642.1 250.4h0M1642.2 241.5h0M1642.3 232.5h0M1642.4 221.3h0M1642.5 212.1h0M1642.6 199.5h0M1642.7 190.7h0M1642.9 179.0h0M1643.0 166.0h0M1643.1 157.1h0M1643.2 147.6h0M1666.8 166.5h0M1666.8 193.0h0M1666.8 216.9h0M1666.8 248.3h0M1666.8 274.4h0M1666.8 287.7h0M1666.8 309.5h0M1666.8 331.3h0M1666.8 353.3h0M1666.9 379.1h0M1666.9 399.1h0M1666.9 420.0h0M1666.9 441.9h0M1666.9 462.2h0M1666.9 499.7h0M1666.9 511.9h0M1666.9 522.0h0M1666.9 552.4h0M1665.6 572.0h0M1666.0 572.8h0M1666.1 559.2h0M1666.3 539.0h0M1666.5 523.5h0M1668.3 507.5h0M1669.2 490.3h0M1669.3 476.7h0M1669.4 457.9h0M1669.5 438.4h0M1669.6 418.9h0M1669.7 398.7h0M1669.8 383.2h0M1669.9 369.2h0M1670.0 350.0h0M1670.1 331.4h0M1670.2 315.5h0M1670.3 299.8h0M1670.4 285.7h0M1670.6 265.9h0M1670.7 249.3h0M1670.8 229.6h0M1671.0 214.0h0M1671.1 198.5h0M1671.2 181.4h0M1671.4 162.3h0M1671.6 142.0h0M1693.4 357.0h0M1693.4 368.6h0M1693.4 377.5h0M1693.5 391.1h0M1693.5 406.4h0M1693.5 416.9h0M1693.5 434.9h0M1693.6 453.1h0M1693.6 471.1h0M1693.6 480.0h0M1694.2 369.1h0M1694.2 364.2h0M1694.2 360.1h0M1694.2 355.8h0M1694.3 350.1h0M1694.3 343.6h0M1694.3 339.8h0M1694.3 336.3h0M1694.4 331.7h0M1694.4 327.2h0M1694.4 321.9h0M1694.5 318.1h0M1694.5 312.0h0M1694.5 307.5h0M1694.6 301.3h0M1694.6 296.8h0M1694.6 298.0h0M1694.6 302.0h0M1694.6 308.4h0M1694.6 313.7h0M1694.6 319.7h0M1694.6 323.4h0M1694.6 328.5h0M1694.6 334.2h0M1694.6 340.7h0M1694.6 347.0h0M1694.6 350.8h0M1694.6 355.4h0M1694.6 361.9h0M1694.6 367.0h0M1694.6 373.4h0M1694.6 377.6h0M1694.6 381.2h0M1694.6 387.5h0M1694.6 391.8h0M1694.6 397.0h0M1694.6 401.6h0M1694.6 406.8h0M1694.6 413.1h0M1694.6 419.5h0M1694.6 425.6h0M1694.6 429.9h0M1694.5 435.8h0M1694.5 439.4h0M1694.5 444.1h0M1694.5 450.5h0M1694.5 454.7h0M1694.4 459.3h0M1694.4 464.6h0M1694.4 468.8h0M1694.3 474.4h0M1694.8 478.0h0M1694.8 461.5h0M1694.8 437.3h0M1694.8 417.9h0M1694.8 401.1h0M1694.9 382.0h0M1694.9 361.0h0M1694.9 341.8h0M1694.9 326.7h0M1694.9 310.8h0M1694.9 288.7h0M1694.9 272.3h0M1694.9 254.8h0M1694.9 231.7h0M1695.0 208.1h0M1695.0 184.3h0M1695.0 167.5h0M1695.0 152.5h0M1721.3 147.2h0M1721.3 154.8h0M1721.3 160.0h0M1721.3 168.0h0M1721.3 174.7h0M1721.3 183.8h0M1721.4 195.6h0M1721.4 202.1h0M1721.4 207.7h0M1721.4 217.5h0M1721.4 223.4h0M1721.4 230.0h0M1721.4 238.1h0M1721.4 249.9h0M1721.4 257.2h0M1721.4 264.4h0M1721.4 272.8h0M1721.4 279.0h0M1721.5 286.8h0M1721.5 296.7h0M1721.5 304.0h0M1721.5 314.5h0M1721.5 320.8h0M1721.5 326.6h0M1668.7 506.0h0M1668.7 502.5h0M1668.7 498.0h0M1668.7 495.3h0M1668.8 491.1h0M1668.8 487.2h0M1668.8 483.8h0M1668.8 481.0h0M1668.8 477.2h0M1668.8 473.0h0M1668.9 469.5h0M1668.9 466.0h0M1668.9 462.0h0M1668.9 458.1h0M1668.9 454.7h0M1668.9 451.8h0M1669.0 448.2h0M1669.0 444.5h0M1669.0 440.1h0M1697.6 357.0h0M1697.7 339.0h0M1697.8 324.9h0M1697.8 312.7h0M1697.9 293.4h0M1698.0 272.4h0M1698.1 259.7h0M1698.2 239.4h0M1698.3 214.0h0M1698.4 198.8h0M1698.5 174.3h0M1698.6 158.4h0"/>
</g>
<path d="M821.2 144.0V1068.0M1665.1 144.0V1068.0" stroke="#0000ff" stroke-width="4.2" fill="none"/>
<path d="M250.0 763.9H1800.0" stroke="#008000" stroke-width="4.2" fill="none"/>
<path d="M250.0 570.9H1800.0M250.0 685.8H1800.0" stroke="#ffa500" stroke-width="1.55" fill="none"/>
<g fill="#90ee90">
<circle cx="876.4" cy="781.3" r="4.3"/>
<circle cx="876.5" cy="700" r="4.3"/>
<circle cx="930.7" cy="690" r="4.3"/>
</g>
<polygon points="876.50,647.20 881.17,661.57 896.28,661.57 884.06,670.46 888.73,684.83 876.50,675.94 864.27,684.83 868.94,670.46 856.72,661.57 871.83,661.57" fill="#ff0000" stroke="#ff0000" stroke-width="1.4" stroke-linejoin="bevel"/>
<polygon points="930.30,595.90 934.97,610.27 950.08,610.27 937.86,619.16 942.53,633.53 930.30,624.64 918.07,633.53 922.74,619.16 910.52,610.27 925.63,610.27" fill="#ff0000" stroke="#ff0000" stroke-width="1.4" stroke-linejoin="bevel"/>
<path d="M860.6 763.6L863.5 756.1L866.1 751.2L867.4 749.2L869.1 747.5L870.4 746.5L871.9 746.0M872.5 746.0L874.6 747.2L875.9 752.6L876.4 756.6M908.1 763.7L910.3 752.7L912.7 742.6L915.0 734.1L917.3 727.3L919.5 722.1L921.9 718.0L923.0 716.8L924.2 715.8L925.6 715.1L926.4 715.0M926.5 715.0L928.6 716.1L929.0 716.8L930.3 722.2L930.6 725.4M957.2 763.3L959.9 745.1L962.6 729.3L965.3 716.0L968.2 704.3L971.0 695.2L972.5 691.4L973.9 688.5L975.1 686.5L976.6 684.6L977.8 683.6L979.3 683.0M979.8 683.0L981.9 684.2L983.1 689.7L983.6 693.6M1006.7 763.4L1009.9 736.4L1013.1 713.4L1016.3 693.7L1019.4 678.0L1022.6 665.6L1024.3 660.3L1025.7 656.5L1027.1 653.7L1028.9 651.0L1030.7 649.4L1032.2 649.0M1032.3 649.0L1034.2 650.4L1035.2 655.9L1035.6 659.9M1055.6 763.3L1059.0 728.3L1062.3 698.1L1065.6 672.7L1069.0 651.4L1072.4 634.9L1074.2 627.9L1075.9 622.6L1077.8 618.2L1079.4 615.4L1081.1 613.7L1082.6 613.2M1082.7 613.2L1084.7 614.4L1085.9 619.9L1086.4 623.9M1103.9 763.7L1107.4 719.8L1110.9 682.4L1114.4 650.6L1117.8 624.4L1119.6 613.4L1121.4 603.1L1123.1 595.3L1124.9 588.3L1126.6 583.0L1128.2 579.3L1129.9 576.6L1131.0 575.5L1131.7 575.1M1132.5 575.0L1133.8 575.9L1134.3 576.5L1135.2 582.0L1135.5 585.2M1135.9 579.0L1135.9 715.8M1150.7 763.9L1154.9 700.6L1159.2 647.8L1161.3 624.7L1163.4 604.8L1165.6 586.6L1167.7 571.5M1183.3 571.0L1183.3 679.8M1196.5 763.5L1199.8 705.3L1203.3 653.1L1206.6 608.5L1210.0 571.0M1240.1 763.6L1242.8 707.3L1245.5 657.3L1248.2 611.6L1250.9 571.1M1284.4 736.7L1288.2 647.4L1292.1 571.0M1329.7 622.5L1331.9 572.2M930.7 616.6L930.7 618.4" fill="none" stroke="#ffff00" stroke-width="14.6" stroke-linecap="round" stroke-linejoin="round"/>
<g fill="#ffff00" fill-opacity=".22" stroke="#ffff00" stroke-opacity=".22" stroke-width="1.2">
<circle cx="821.5" cy="763.0" r="6.7"/>
<circle cx="821.5" cy="760.7" r="6.7"/>
<circle cx="821.5" cy="758.3" r="6.7"/>
<circle cx="821.5" cy="754.9" r="6.7"/>
<circle cx="821.5" cy="751.8" r="6.7"/>
<circle cx="821.5" cy="746.5" r="6.7"/>
<circle cx="821.5" cy="743.9" r="6.7"/>
<circle cx="821.5" cy="741.8" r="6.7"/>
<circle cx="821.5" cy="736.0" r="6.7"/>
<circle cx="821.5" cy="731.9" r="6.7"/>
<circle cx="821.5" cy="729.3" r="6.7"/>
<circle cx="821.5" cy="725.1" r="6.7"/>
<circle cx="821.5" cy="723.0" r="6.7"/>
<circle cx="821.5" cy="718.9" r="6.7"/>
<circle cx="876.4" cy="750.0" r="6.7"/>
<circle cx="876.4" cy="745.1" r="6.7"/>
<circle cx="876.4" cy="742.4" r="6.7"/>
<circle cx="876.4" cy="739.9" r="6.7"/>
<circle cx="876.4" cy="737.3" r="6.7"/>
<circle cx="876.4" cy="731.7" r="6.7"/>
<circle cx="876.4" cy="726.5" r="6.7"/>
<circle cx="876.4" cy="723.9" r="6.7"/>
<circle cx="876.4" cy="718.6" r="6.7"/>
<circle cx="876.4" cy="712.7" r="6.7"/>
<circle cx="876.4" cy="708.0" r="6.7"/>
<circle cx="876.4" cy="704.6" r="6.7"/>
<circle cx="876.4" cy="700.4" r="6.7"/>
<circle cx="876.4" cy="697.9" r="6.7"/>
<circle cx="876.4" cy="695.8" r="6.7"/>
<circle cx="876.4" cy="690.0" r="6.7"/>
<circle cx="876.4" cy="685.4" r="6.7"/>
<circle cx="876.4" cy="681.3" r="6.7"/>
<circle cx="876.4" cy="675.5" r="6.7"/>
<circle cx="876.4" cy="671.8" r="6.7"/>
<circle cx="876.4" cy="666.3" r="6.7"/>
<circle cx="876.4" cy="661.0" r="6.7"/>
<circle cx="876.4" cy="658.2" r="6.7"/>
<circle cx="876.4" cy="655.1" r="6.7"/>
<circle cx="876.4" cy="652.0" r="6.7"/>
<circle cx="876.4" cy="649.0" r="6.7"/>
<circle cx="876.4" cy="644.7" r="6.7"/>
<circle cx="876.4" cy="641.6" r="6.7"/>
<circle cx="876.4" cy="637.9" r="6.7"/>
<circle cx="876.4" cy="635.4" r="6.7"/>
<circle cx="876.7" cy="750.0" r="6.7"/>
<circle cx="876.7" cy="754.8" r="6.7"/>
<circle cx="876.7" cy="760.1" r="6.7"/>
<circle cx="876.7" cy="763.7" r="6.7"/>
<circle cx="930.7" cy="719.0" r="6.7"/>
<circle cx="930.7" cy="716.9" r="6.7"/>
<circle cx="930.7" cy="713.6" r="6.7"/>
<circle cx="930.7" cy="709.1" r="6.7"/>
<circle cx="930.7" cy="705.1" r="6.7"/>
<circle cx="930.7" cy="702.8" r="6.7"/>
<circle cx="930.7" cy="696.9" r="6.7"/>
<circle cx="930.7" cy="691.7" r="6.7"/>
<circle cx="930.7" cy="685.8" r="6.7"/>
<circle cx="930.7" cy="683.4" r="6.7"/>
<circle cx="930.7" cy="680.3" r="6.7"/>
<circle cx="930.7" cy="678.2" r="6.7"/>
<circle cx="930.7" cy="673.1" r="6.7"/>
<circle cx="930.7" cy="670.0" r="6.7"/>
<circle cx="930.7" cy="667.5" r="6.7"/>
<circle cx="930.7" cy="663.8" r="6.7"/>
<circle cx="930.7" cy="658.1" r="6.7"/>
<circle cx="930.7" cy="652.9" r="6.7"/>
<circle cx="930.7" cy="649.8" r="6.7"/>
<circle cx="930.7" cy="647.2" r="6.7"/>
<circle cx="930.7" cy="641.5" r="6.7"/>
<circle cx="930.7" cy="637.3" r="6.7"/>
<circle cx="930.7" cy="632.5" r="6.7"/>
<circle cx="930.7" cy="630.1" r="6.7"/>
<circle cx="930.7" cy="627.9" r="6.7"/>
<circle cx="930.7" cy="623.1" r="6.7"/>
<circle cx="930.7" cy="619.4" r="6.7"/>
<circle cx="930.7" cy="617.1" r="6.7"/>
<circle cx="931.0" cy="719.0" r="6.7"/>
<circle cx="931.0" cy="722.7" r="6.7"/>
<circle cx="931.0" cy="727.3" r="6.7"/>
<circle cx="931.0" cy="733.1" r="6.7"/>
<circle cx="931.0" cy="736.6" r="6.7"/>
<circle cx="931.0" cy="742.1" r="6.7"/>
<circle cx="931.0" cy="746.5" r="6.7"/>
<circle cx="931.0" cy="751.1" r="6.7"/>
<circle cx="931.0" cy="756.6" r="6.7"/>
<circle cx="931.0" cy="760.9" r="6.7"/>
<circle cx="983.6" cy="687.0" r="6.7"/>
<circle cx="983.6" cy="684.4" r="6.7"/>
<circle cx="983.6" cy="679.5" r="6.7"/>
<circle cx="983.6" cy="674.9" r="6.7"/>
<circle cx="983.6" cy="672.8" r="6.7"/>
<circle cx="983.6" cy="667.4" r="6.7"/>
<circle cx="983.6" cy="661.8" r="6.7"/>
<circle cx="983.6" cy="657.3" r="6.7"/>
<circle cx="983.6" cy="652.4" r="6.7"/>
<circle cx="983.6" cy="647.2" r="6.7"/>
<circle cx="983.6" cy="644.6" r="6.7"/>
<circle cx="983.6" cy="640.5" r="6.7"/>
<circle cx="983.6" cy="636.5" r="6.7"/>
<circle cx="983.6" cy="631.1" r="6.7"/>
<circle cx="983.6" cy="625.9" r="6.7"/>
<circle cx="983.6" cy="620.6" r="6.7"/>
<circle cx="983.6" cy="616.3" r="6.7"/>
<circle cx="983.6" cy="610.7" r="6.7"/>
<circle cx="983.6" cy="606.0" r="6.7"/>
<circle cx="983.6" cy="601.2" r="6.7"/>
<circle cx="983.6" cy="598.3" r="6.7"/>
<circle cx="983.6" cy="596.2" r="6.7"/>
<circle cx="983.6" cy="593.6" r="6.7"/>
<circle cx="983.6" cy="590.2" r="6.7"/>
<circle cx="983.6" cy="587.8" r="6.7"/>
<circle cx="983.6" cy="582.4" r="6.7"/>
<circle cx="983.6" cy="578.2" r="6.7"/>
<circle cx="983.6" cy="573.7" r="6.7"/>
<circle cx="983.9" cy="687.0" r="6.7"/>
<circle cx="983.9" cy="690.5" r="6.7"/>
<circle cx="983.9" cy="696.2" r="6.7"/>
<circle cx="983.9" cy="700.0" r="6.7"/>
<circle cx="983.9" cy="705.9" r="6.7"/>
<circle cx="983.9" cy="711.7" r="6.7"/>
<circle cx="983.9" cy="715.0" r="6.7"/>
<circle cx="983.9" cy="719.5" r="6.7"/>
<circle cx="983.9" cy="725.0" r="6.7"/>
<circle cx="983.9" cy="730.9" r="6.7"/>
<circle cx="983.9" cy="735.3" r="6.7"/>
<circle cx="983.9" cy="739.3" r="6.7"/>
<circle cx="983.9" cy="743.1" r="6.7"/>
<circle cx="983.9" cy="748.9" r="6.7"/>
<circle cx="983.9" cy="752.7" r="6.7"/>
<circle cx="983.9" cy="757.5" r="6.7"/>
<circle cx="983.9" cy="761.1" r="6.7"/>
<circle cx="1035.6" cy="653.0" r="6.7"/>
<circle cx="1035.6" cy="650.8" r="6.7"/>
<circle cx="1035.6" cy="645.1" r="6.7"/>
<circle cx="1035.6" cy="642.6" r="6.7"/>
<circle cx="1035.6" cy="638.7" r="6.7"/>
<circle cx="1035.6" cy="635.3" r="6.7"/>
<circle cx="1035.6" cy="632.1" r="6.7"/>
<circle cx="1035.6" cy="627.2" r="6.7"/>
<circle cx="1035.6" cy="621.3" r="6.7"/>
<circle cx="1035.6" cy="618.2" r="6.7"/>
<circle cx="1035.6" cy="613.6" r="6.7"/>
<circle cx="1035.6" cy="610.4" r="6.7"/>
<circle cx="1035.6" cy="606.2" r="6.7"/>
<circle cx="1035.6" cy="602.6" r="6.7"/>
<circle cx="1035.6" cy="599.9" r="6.7"/>
<circle cx="1035.6" cy="597.3" r="6.7"/>
<circle cx="1035.6" cy="594.4" r="6.7"/>
<circle cx="1035.6" cy="588.8" r="6.7"/>
<circle cx="1035.6" cy="584.8" r="6.7"/>
<circle cx="1035.6" cy="582.0" r="6.7"/>
<circle cx="1035.6" cy="576.3" r="6.7"/>
<circle cx="1035.9" cy="653.0" r="6.7"/>
<circle cx="1035.9" cy="657.7" r="6.7"/>
<circle cx="1035.9" cy="662.5" r="6.7"/>
<circle cx="1035.9" cy="666.8" r="6.7"/>
<circle cx="1035.9" cy="670.6" r="6.7"/>
<circle cx="1035.9" cy="675.5" r="6.7"/>
<circle cx="1035.9" cy="678.8" r="6.7"/>
<circle cx="1035.9" cy="682.8" r="6.7"/>
<circle cx="1035.9" cy="687.3" r="6.7"/>
<circle cx="1035.9" cy="693.2" r="6.7"/>
<circle cx="1035.9" cy="698.2" r="6.7"/>
<circle cx="1035.9" cy="703.8" r="6.7"/>
<circle cx="1035.9" cy="708.4" r="6.7"/>
<circle cx="1035.9" cy="712.2" r="6.7"/>
<circle cx="1035.9" cy="716.1" r="6.7"/>
<circle cx="1035.9" cy="722.0" r="6.7"/>
<circle cx="1035.9" cy="727.2" r="6.7"/>
<circle cx="1035.9" cy="731.2" r="6.7"/>
<circle cx="1035.9" cy="734.5" r="6.7"/>
<circle cx="1035.9" cy="739.1" r="6.7"/>
<circle cx="1035.9" cy="744.2" r="6.7"/>
<circle cx="1035.9" cy="748.6" r="6.7"/>
<circle cx="1035.9" cy="752.5" r="6.7"/>
<circle cx="1035.9" cy="757.6" r="6.7"/>
<circle cx="1035.9" cy="763.3" r="6.7"/>
<circle cx="1086.4" cy="617.2" r="6.7"/>
<circle cx="1086.4" cy="615.1" r="6.7"/>
<circle cx="1086.4" cy="612.8" r="6.7"/>
<circle cx="1086.4" cy="607.1" r="6.7"/>
<circle cx="1086.4" cy="604.1" r="6.7"/>
<circle cx="1086.4" cy="599.1" r="6.7"/>
<circle cx="1086.4" cy="593.5" r="6.7"/>
<circle cx="1086.4" cy="590.2" r="6.7"/>
<circle cx="1086.4" cy="587.1" r="6.7"/>
<circle cx="1086.4" cy="581.2" r="6.7"/>
<circle cx="1086.4" cy="576.8" r="6.7"/>
<circle cx="1086.4" cy="573.7" r="6.7"/>
<circle cx="1086.7" cy="617.2" r="6.7"/>
<circle cx="1086.7" cy="621.0" r="6.7"/>
<circle cx="1086.7" cy="625.3" r="6.7"/>
<circle cx="1086.7" cy="628.9" r="6.7"/>
<circle cx="1086.7" cy="632.7" r="6.7"/>
<circle cx="1086.7" cy="636.6" r="6.7"/>
<circle cx="1086.7" cy="641.4" r="6.7"/>
<circle cx="1086.7" cy="646.5" r="6.7"/>
<circle cx="1086.7" cy="650.2" r="6.7"/>
<circle cx="1086.7" cy="653.5" r="6.7"/>
<circle cx="1086.7" cy="657.6" r="6.7"/>
<circle cx="1086.7" cy="662.7" r="6.7"/>
<circle cx="1086.7" cy="666.4" r="6.7"/>
<circle cx="1086.7" cy="670.5" r="6.7"/>
<circle cx="1086.7" cy="674.3" r="6.7"/>
<circle cx="1086.7" cy="679.7" r="6.7"/>
<circle cx="1086.7" cy="684.5" r="6.7"/>
<circle cx="1086.7" cy="687.9" r="6.7"/>
<circle cx="1086.7" cy="691.4" r="6.7"/>
<circle cx="1086.7" cy="695.7" r="6.7"/>
<circle cx="1086.7" cy="700.4" r="6.7"/>
<circle cx="1086.7" cy="705.4" r="6.7"/>
<circle cx="1086.7" cy="708.9" r="6.7"/>
<circle cx="1086.7" cy="712.5" r="6.7"/>
<circle cx="1086.7" cy="717.7" r="6.7"/>
<circle cx="1086.7" cy="722.0" r="6.7"/>
<circle cx="1086.7" cy="726.0" r="6.7"/>
<circle cx="1086.7" cy="730.1" r="6.7"/>
<circle cx="1086.7" cy="735.9" r="6.7"/>
<circle cx="1086.7" cy="740.0" r="6.7"/>
<circle cx="1086.7" cy="744.8" r="6.7"/>
<circle cx="1086.7" cy="749.0" r="6.7"/>
<circle cx="1086.7" cy="753.4" r="6.7"/>
<circle cx="1086.7" cy="759.0" r="6.7"/>
<circle cx="1135.6" cy="579.0" r="6.7"/>
<circle cx="1135.6" cy="576.3" r="6.7"/>
<circle cx="1135.9" cy="579.0" r="6.7"/>
<circle cx="1135.9" cy="582.8" r="6.7"/>
<circle cx="1135.9" cy="588.1" r="6.7"/>
<circle cx="1135.9" cy="594.0" r="6.7"/>
<circle cx="1135.9" cy="597.3" r="6.7"/>
<circle cx="1135.9" cy="601.8" r="6.7"/>
<circle cx="1135.9" cy="606.4" r="6.7"/>
<circle cx="1135.9" cy="611.8" r="6.7"/>
<circle cx="1135.9" cy="615.6" r="6.7"/>
<circle cx="1135.9" cy="620.1" r="6.7"/>
<circle cx="1135.9" cy="624.3" r="6.7"/>
<circle cx="1135.9" cy="629.8" r="6.7"/>
<circle cx="1135.9" cy="633.8" r="6.7"/>
<circle cx="1135.9" cy="639.6" r="6.7"/>
<circle cx="1135.9" cy="643.6" r="6.7"/>
<circle cx="1135.9" cy="647.4" r="6.7"/>
<circle cx="1135.9" cy="652.6" r="6.7"/>
<circle cx="1135.9" cy="657.2" r="6.7"/>
<circle cx="1135.9" cy="660.7" r="6.7"/>
<circle cx="1135.9" cy="665.7" r="6.7"/>
<circle cx="1135.9" cy="669.1" r="6.7"/>
<circle cx="1135.9" cy="674.5" r="6.7"/>
<circle cx="1135.9" cy="679.6" r="6.7"/>
<circle cx="1135.9" cy="685.0" r="6.7"/>
<circle cx="1135.9" cy="690.0" r="6.7"/>
<circle cx="1135.9" cy="694.2" r="6.7"/>
<circle cx="1135.9" cy="698.5" r="6.7"/>
<circle cx="1135.9" cy="702.8" r="6.7"/>
<circle cx="1135.9" cy="708.5" r="6.7"/>
<circle cx="1135.9" cy="712.0" r="6.7"/>
<circle cx="1135.9" cy="717.6" r="6.7"/>
<circle cx="1135.9" cy="720.9" r="6.7"/>
<circle cx="1135.9" cy="724.7" r="6.7"/>
<circle cx="1135.9" cy="728.7" r="6.7"/>
<circle cx="1135.9" cy="734.4" r="6.7"/>
<circle cx="1135.9" cy="739.0" r="6.7"/>
<circle cx="1135.9" cy="743.2" r="6.7"/>
<circle cx="1135.9" cy="748.9" r="6.7"/>
<circle cx="1135.9" cy="752.8" r="6.7"/>
<circle cx="1135.9" cy="757.2" r="6.7"/>
<circle cx="1135.9" cy="761.9" r="6.7"/>
<circle cx="1136.7" cy="763.5" r="6.7"/>
<circle cx="1136.8" cy="753.2" r="6.7"/>
<circle cx="1136.8" cy="746.0" r="6.7"/>
<circle cx="1136.8" cy="752.2" r="6.7"/>
<circle cx="1136.8" cy="762.7" r="6.7"/>
<circle cx="1183.3" cy="574.1" r="6.7"/>
<circle cx="1183.3" cy="577.3" r="6.7"/>
<circle cx="1183.3" cy="580.6" r="6.7"/>
<circle cx="1183.3" cy="585.7" r="6.7"/>
<circle cx="1183.3" cy="589.2" r="6.7"/>
<circle cx="1183.3" cy="595.1" r="6.7"/>
<circle cx="1183.3" cy="598.6" r="6.7"/>
<circle cx="1183.3" cy="604.2" r="6.7"/>
<circle cx="1183.3" cy="607.8" r="6.7"/>
<circle cx="1183.3" cy="611.0" r="6.7"/>
<circle cx="1183.3" cy="616.3" r="6.7"/>
<circle cx="1183.3" cy="620.1" r="6.7"/>
<circle cx="1183.3" cy="625.4" r="6.7"/>
<circle cx="1183.3" cy="629.1" r="6.7"/>
<circle cx="1183.3" cy="632.5" r="6.7"/>
<circle cx="1183.3" cy="637.8" r="6.7"/>
<circle cx="1183.3" cy="643.0" r="6.7"/>
<circle cx="1183.3" cy="648.6" r="6.7"/>
<circle cx="1183.3" cy="653.8" r="6.7"/>
<circle cx="1183.3" cy="657.3" r="6.7"/>
<circle cx="1183.3" cy="662.2" r="6.7"/>
<circle cx="1183.3" cy="667.4" r="6.7"/>
<circle cx="1183.3" cy="671.9" r="6.7"/>
<circle cx="1183.3" cy="677.7" r="6.7"/>
<circle cx="1183.3" cy="681.6" r="6.7"/>
<circle cx="1183.3" cy="687.5" r="6.7"/>
<circle cx="1183.3" cy="692.7" r="6.7"/>
<circle cx="1183.3" cy="696.0" r="6.7"/>
<circle cx="1183.3" cy="699.2" r="6.7"/>
<circle cx="1183.3" cy="704.2" r="6.7"/>
<circle cx="1183.3" cy="709.7" r="6.7"/>
<circle cx="1183.3" cy="713.2" r="6.7"/>
<circle cx="1183.3" cy="717.2" r="6.7"/>
<circle cx="1183.3" cy="722.5" r="6.7"/>
<circle cx="1183.3" cy="726.1" r="6.7"/>
<circle cx="1183.3" cy="731.7" r="6.7"/>
<circle cx="1183.3" cy="736.3" r="6.7"/>
<circle cx="1183.3" cy="739.7" r="6.7"/>
<circle cx="1183.3" cy="743.9" r="6.7"/>
<circle cx="1183.3" cy="748.7" r="6.7"/>
<circle cx="1183.3" cy="753.2" r="6.7"/>
<circle cx="1183.3" cy="758.3" r="6.7"/>
<circle cx="1183.3" cy="761.9" r="6.7"/>
<circle cx="1184.0" cy="761.2" r="6.7"/>
<circle cx="1184.0" cy="750.6" r="6.7"/>
<circle cx="1184.1" cy="739.2" r="6.7"/>
<circle cx="1184.1" cy="728.7" r="6.7"/>
<circle cx="1184.2" cy="719.3" r="6.7"/>
<circle cx="1184.2" cy="721.4" r="6.7"/>
<circle cx="1184.2" cy="728.0" r="6.7"/>
<circle cx="1184.2" cy="739.6" r="6.7"/>
<circle cx="1184.2" cy="749.7" r="6.7"/>
<circle cx="1184.2" cy="760.5" r="6.7"/>
<circle cx="1229.4" cy="576.5" r="6.7"/>
<circle cx="1229.4" cy="579.9" r="6.7"/>
<circle cx="1229.4" cy="585.1" r="6.7"/>
<circle cx="1229.4" cy="589.1" r="6.7"/>
<circle cx="1229.4" cy="595.0" r="6.7"/>
<circle cx="1229.4" cy="598.3" r="6.7"/>
<circle cx="1229.4" cy="603.8" r="6.7"/>
<circle cx="1229.4" cy="607.9" r="6.7"/>
<circle cx="1229.4" cy="611.5" r="6.7"/>
<circle cx="1229.4" cy="614.7" r="6.7"/>
<circle cx="1229.4" cy="620.3" r="6.7"/>
<circle cx="1229.4" cy="624.9" r="6.7"/>
<circle cx="1229.4" cy="628.7" r="6.7"/>
<circle cx="1229.4" cy="633.1" r="6.7"/>
<circle cx="1229.4" cy="638.8" r="6.7"/>
<circle cx="1229.4" cy="642.7" r="6.7"/>
<circle cx="1229.4" cy="647.4" r="6.7"/>
<circle cx="1229.4" cy="651.1" r="6.7"/>
<circle cx="1229.4" cy="654.8" r="6.7"/>
<circle cx="1229.4" cy="660.1" r="6.7"/>
<circle cx="1229.4" cy="665.3" r="6.7"/>
<circle cx="1229.4" cy="669.1" r="6.7"/>
<circle cx="1229.4" cy="672.5" r="6.7"/>
<circle cx="1229.4" cy="676.0" r="6.7"/>
<circle cx="1229.4" cy="680.9" r="6.7"/>
<circle cx="1229.4" cy="685.4" r="6.7"/>
<circle cx="1229.4" cy="689.4" r="6.7"/>
<circle cx="1229.4" cy="693.2" r="6.7"/>
<circle cx="1229.4" cy="698.1" r="6.7"/>
<circle cx="1229.4" cy="703.3" r="6.7"/>
<circle cx="1229.4" cy="708.8" r="6.7"/>
<circle cx="1229.4" cy="713.6" r="6.7"/>
<circle cx="1229.4" cy="717.4" r="6.7"/>
<circle cx="1229.4" cy="720.8" r="6.7"/>
<circle cx="1229.4" cy="726.0" r="6.7"/>
<circle cx="1229.4" cy="730.4" r="6.7"/>
<circle cx="1229.4" cy="735.6" r="6.7"/>
<circle cx="1229.4" cy="738.9" r="6.7"/>
<circle cx="1229.4" cy="744.4" r="6.7"/>
<circle cx="1229.4" cy="748.5" r="6.7"/>
<circle cx="1229.4" cy="754.1" r="6.7"/>
<circle cx="1229.4" cy="759.7" r="6.7"/>
<circle cx="1229.9" cy="761.4" r="6.7"/>
<circle cx="1230.0" cy="750.4" r="6.7"/>
<circle cx="1230.0" cy="742.7" r="6.7"/>
<circle cx="1230.1" cy="735.4" r="6.7"/>
<circle cx="1230.1" cy="724.6" r="6.7"/>
<circle cx="1230.2" cy="716.3" r="6.7"/>
<circle cx="1230.2" cy="709.1" r="6.7"/>
<circle cx="1230.2" cy="700.8" r="6.7"/>
<circle cx="1230.3" cy="691.3" r="6.7"/>
<circle cx="1230.3" cy="685.3" r="6.7"/>
<circle cx="1230.3" cy="694.4" r="6.7"/>
<circle cx="1230.3" cy="703.1" r="6.7"/>
<circle cx="1230.3" cy="712.2" r="6.7"/>
<circle cx="1230.3" cy="719.2" r="6.7"/>
<circle cx="1230.3" cy="729.3" r="6.7"/>
<circle cx="1230.3" cy="740.0" r="6.7"/>
<circle cx="1230.3" cy="751.0" r="6.7"/>
<circle cx="1230.3" cy="759.0" r="6.7"/>
<circle cx="1273.5" cy="571.9" r="6.7"/>
<circle cx="1273.5" cy="576.5" r="6.7"/>
<circle cx="1273.5" cy="581.9" r="6.7"/>
<circle cx="1273.5" cy="587.0" r="6.7"/>
<circle cx="1273.5" cy="592.8" r="6.7"/>
<circle cx="1273.5" cy="596.3" r="6.7"/>
<circle cx="1273.5" cy="602.0" r="6.7"/>
<circle cx="1273.5" cy="605.2" r="6.7"/>
<circle cx="1273.5" cy="610.5" r="6.7"/>
<circle cx="1273.5" cy="615.4" r="6.7"/>
<circle cx="1273.5" cy="620.0" r="6.7"/>
<circle cx="1273.5" cy="625.8" r="6.7"/>
<circle cx="1273.5" cy="630.6" r="6.7"/>
<circle cx="1273.5" cy="635.0" r="6.7"/>
<circle cx="1273.5" cy="640.4" r="6.7"/>
<circle cx="1273.5" cy="646.0" r="6.7"/>
<circle cx="1273.5" cy="650.9" r="6.7"/>
<circle cx="1273.5" cy="655.2" r="6.7"/>
<circle cx="1273.5" cy="659.7" r="6.7"/>
<circle cx="1273.5" cy="664.1" r="6.7"/>
<circle cx="1273.5" cy="669.4" r="6.7"/>
<circle cx="1273.5" cy="673.4" r="6.7"/>
<circle cx="1273.5" cy="677.7" r="6.7"/>
<circle cx="1273.5" cy="682.4" r="6.7"/>
<circle cx="1273.5" cy="686.7" r="6.7"/>
<circle cx="1273.5" cy="690.8" r="6.7"/>
<circle cx="1273.5" cy="696.2" r="6.7"/>
<circle cx="1273.5" cy="701.8" r="6.7"/>
<circle cx="1273.5" cy="706.4" r="6.7"/>
<circle cx="1273.5" cy="710.8" r="6.7"/>
<circle cx="1273.5" cy="714.6" r="6.7"/>
<circle cx="1273.5" cy="718.6" r="6.7"/>
<circle cx="1273.5" cy="722.2" r="6.7"/>
<circle cx="1273.5" cy="727.0" r="6.7"/>
<circle cx="1273.5" cy="731.9" r="6.7"/>
<circle cx="1273.5" cy="735.3" r="6.7"/>
<circle cx="1273.5" cy="741.1" r="6.7"/>
<circle cx="1273.5" cy="745.2" r="6.7"/>
<circle cx="1273.5" cy="750.8" r="6.7"/>
<circle cx="1273.5" cy="756.3" r="6.7"/>
<circle cx="1273.5" cy="762.2" r="6.7"/>
<circle cx="1274.0" cy="755.4" r="6.7"/>
<circle cx="1274.0" cy="744.2" r="6.7"/>
<circle cx="1274.0" cy="737.8" r="6.7"/>
<circle cx="1274.1" cy="731.3" r="6.7"/>
<circle cx="1274.1" cy="721.9" r="6.7"/>
<circle cx="1274.1" cy="712.9" r="6.7"/>
<circle cx="1274.2" cy="701.7" r="6.7"/>
<circle cx="1274.2" cy="691.2" r="6.7"/>
<circle cx="1274.3" cy="682.0" r="6.7"/>
<circle cx="1274.3" cy="670.3" r="6.7"/>
<circle cx="1274.4" cy="661.2" r="6.7"/>
<circle cx="1274.4" cy="652.1" r="6.7"/>
<circle cx="1274.4" cy="659.9" r="6.7"/>
<circle cx="1274.4" cy="668.3" r="6.7"/>
<circle cx="1274.4" cy="676.6" r="6.7"/>
<circle cx="1274.4" cy="686.1" r="6.7"/>
<circle cx="1274.4" cy="694.3" r="6.7"/>
<circle cx="1274.4" cy="705.7" r="6.7"/>
<circle cx="1274.4" cy="715.6" r="6.7"/>
<circle cx="1274.4" cy="724.8" r="6.7"/>
<circle cx="1274.4" cy="731.6" r="6.7"/>
<circle cx="1274.4" cy="739.9" r="6.7"/>
<circle cx="1274.4" cy="748.4" r="6.7"/>
<circle cx="1274.4" cy="757.7" r="6.7"/>
<circle cx="1283.3" cy="762.6" r="6.7"/>
<circle cx="1283.4" cy="761.1" r="6.7"/>
<circle cx="1283.5" cy="759.6" r="6.7"/>
<circle cx="1283.5" cy="758.0" r="6.7"/>
<circle cx="1283.6" cy="756.5" r="6.7"/>
<circle cx="1283.6" cy="754.9" r="6.7"/>
<circle cx="1283.7" cy="753.4" r="6.7"/>
<circle cx="1283.8" cy="751.9" r="6.7"/>
<circle cx="1283.8" cy="750.3" r="6.7"/>
<circle cx="1283.9" cy="748.8" r="6.7"/>
<circle cx="1283.9" cy="747.3" r="6.7"/>
<circle cx="1284.0" cy="745.8" r="6.7"/>
<circle cx="1284.1" cy="744.3" r="6.7"/>
<circle cx="1284.1" cy="742.7" r="6.7"/>
<circle cx="1284.2" cy="741.2" r="6.7"/>
<circle cx="1284.2" cy="739.7" r="6.7"/>
<circle cx="1284.3" cy="738.2" r="6.7"/>
<circle cx="1316.6" cy="572.8" r="6.7"/>
<circle cx="1316.6" cy="577.1" r="6.7"/>
<circle cx="1316.6" cy="581.7" r="6.7"/>
<circle cx="1316.6" cy="585.7" r="6.7"/>
<circle cx="1316.6" cy="589.1" r="6.7"/>
<circle cx="1316.6" cy="593.2" r="6.7"/>
<circle cx="1316.6" cy="597.0" r="6.7"/>
<circle cx="1316.6" cy="600.6" r="6.7"/>
<circle cx="1316.6" cy="605.8" r="6.7"/>
<circle cx="1316.6" cy="609.8" r="6.7"/>
<circle cx="1316.6" cy="614.1" r="6.7"/>
<circle cx="1316.6" cy="619.9" r="6.7"/>
<circle cx="1316.6" cy="625.2" r="6.7"/>
<circle cx="1316.6" cy="630.9" r="6.7"/>
<circle cx="1316.6" cy="636.5" r="6.7"/>
<circle cx="1316.6" cy="640.0" r="6.7"/>
<circle cx="1316.6" cy="644.0" r="6.7"/>
<circle cx="1316.6" cy="647.3" r="6.7"/>
<circle cx="1316.6" cy="652.4" r="6.7"/>
<circle cx="1316.6" cy="657.5" r="6.7"/>
<circle cx="1316.6" cy="661.7" r="6.7"/>
<circle cx="1316.6" cy="666.0" r="6.7"/>
<circle cx="1316.6" cy="671.1" r="6.7"/>
<circle cx="1316.6" cy="676.2" r="6.7"/>
<circle cx="1316.6" cy="680.1" r="6.7"/>
<circle cx="1316.6" cy="685.7" r="6.7"/>
<circle cx="1316.6" cy="689.9" r="6.7"/>
<circle cx="1316.6" cy="694.8" r="6.7"/>
<circle cx="1316.6" cy="698.6" r="6.7"/>
<circle cx="1316.6" cy="702.1" r="6.7"/>
<circle cx="1316.6" cy="707.8" r="6.7"/>
<circle cx="1316.6" cy="713.1" r="6.7"/>
<circle cx="1316.6" cy="718.3" r="6.7"/>
<circle cx="1316.6" cy="721.6" r="6.7"/>
<circle cx="1316.6" cy="724.9" r="6.7"/>
<circle cx="1316.6" cy="728.6" r="6.7"/>
<circle cx="1316.6" cy="732.4" r="6.7"/>
<circle cx="1316.6" cy="736.4" r="6.7"/>
<circle cx="1316.6" cy="740.7" r="6.7"/>
<circle cx="1316.6" cy="744.0" r="6.7"/>
<circle cx="1316.6" cy="748.1" r="6.7"/>
<circle cx="1316.6" cy="753.1" r="6.7"/>
<circle cx="1316.6" cy="756.8" r="6.7"/>
<circle cx="1316.6" cy="762.3" r="6.7"/>
<circle cx="1317.0" cy="727.1" r="6.7"/>
<circle cx="1317.1" cy="717.0" r="6.7"/>
<circle cx="1317.1" cy="709.3" r="6.7"/>
<circle cx="1317.2" cy="700.6" r="6.7"/>
<circle cx="1317.2" cy="690.7" r="6.7"/>
<circle cx="1317.2" cy="682.5" r="6.7"/>
<circle cx="1317.3" cy="676.2" r="6.7"/>
<circle cx="1317.3" cy="665.4" r="6.7"/>
<circle cx="1317.3" cy="654.9" r="6.7"/>
<circle cx="1317.4" cy="647.0" r="6.7"/>
<circle cx="1317.4" cy="640.5" r="6.7"/>
<circle cx="1317.4" cy="629.6" r="6.7"/>
<circle cx="1317.5" cy="620.0" r="6.7"/>
<circle cx="1317.5" cy="615.2" r="6.7"/>
<circle cx="1317.5" cy="622.8" r="6.7"/>
<circle cx="1317.5" cy="629.7" r="6.7"/>
<circle cx="1317.5" cy="640.3" r="6.7"/>
<circle cx="1317.5" cy="647.7" r="6.7"/>
<circle cx="1317.5" cy="658.9" r="6.7"/>
<circle cx="1317.5" cy="669.3" r="6.7"/>
<circle cx="1317.5" cy="676.0" r="6.7"/>
<circle cx="1317.5" cy="686.1" r="6.7"/>
<circle cx="1317.5" cy="694.5" r="6.7"/>
<circle cx="1317.5" cy="704.9" r="6.7"/>
<circle cx="1317.5" cy="715.6" r="6.7"/>
<circle cx="1317.5" cy="723.5" r="6.7"/>
<circle cx="1317.5" cy="730.2" r="6.7"/>
<circle cx="1317.5" cy="741.7" r="6.7"/>
<circle cx="1317.5" cy="750.2" r="6.7"/>
<circle cx="1317.6" cy="761.6" r="6.7"/>
<circle cx="1324.6" cy="763.6" r="6.7"/>
<circle cx="1324.7" cy="761.7" r="6.7"/>
<circle cx="1324.8" cy="759.9" r="6.7"/>
<circle cx="1324.8" cy="758.1" r="6.7"/>
<circle cx="1324.9" cy="756.3" r="6.7"/>
<circle cx="1324.9" cy="754.5" r="6.7"/>
<circle cx="1325.0" cy="752.7" r="6.7"/>
<circle cx="1325.1" cy="750.9" r="6.7"/>
<circle cx="1325.1" cy="749.1" r="6.7"/>
<circle cx="1325.2" cy="747.3" r="6.7"/>
<circle cx="1325.2" cy="745.6" r="6.7"/>
<circle cx="1325.3" cy="743.8" r="6.7"/>
<circle cx="1325.4" cy="742.0" r="6.7"/>
<circle cx="1325.4" cy="740.2" r="6.7"/>
<circle cx="1325.5" cy="738.5" r="6.7"/>
<circle cx="1325.5" cy="736.7" r="6.7"/>
<circle cx="1325.6" cy="734.9" r="6.7"/>
<circle cx="1325.7" cy="733.2" r="6.7"/>
<circle cx="1325.7" cy="731.4" r="6.7"/>
<circle cx="1325.8" cy="729.7" r="6.7"/>
<circle cx="1325.8" cy="727.9" r="6.7"/>
<circle cx="1325.9" cy="726.2" r="6.7"/>
<circle cx="1326.0" cy="724.4" r="6.7"/>
<circle cx="1326.0" cy="722.7" r="6.7"/>
<circle cx="1326.1" cy="721.0" r="6.7"/>
<circle cx="1326.1" cy="719.3" r="6.7"/>
<circle cx="1326.2" cy="717.5" r="6.7"/>
<circle cx="1326.3" cy="715.8" r="6.7"/>
<circle cx="1326.3" cy="714.1" r="6.7"/>
<circle cx="1326.4" cy="712.4" r="6.7"/>
<circle cx="1326.4" cy="710.7" r="6.7"/>
<circle cx="1326.5" cy="709.0" r="6.7"/>
<circle cx="1326.6" cy="707.3" r="6.7"/>
<circle cx="1326.6" cy="705.6" r="6.7"/>
<circle cx="1326.7" cy="703.9" r="6.7"/>
<circle cx="1326.7" cy="702.2" r="6.7"/>
<circle cx="1326.8" cy="700.5" r="6.7"/>
<circle cx="1326.9" cy="698.8" r="6.7"/>
<circle cx="1326.9" cy="697.1" r="6.7"/>
<circle cx="1327.0" cy="695.5" r="6.7"/>
<circle cx="1327.0" cy="693.8" r="6.7"/>
<circle cx="1327.1" cy="692.1" r="6.7"/>
<circle cx="1327.2" cy="690.5" r="6.7"/>
<circle cx="1327.2" cy="688.8" r="6.7"/>
<circle cx="1327.3" cy="687.1" r="6.7"/>
<circle cx="1327.3" cy="685.5" r="6.7"/>
<circle cx="1327.4" cy="683.8" r="6.7"/>
<circle cx="1327.5" cy="682.2" r="6.7"/>
<circle cx="1327.5" cy="680.5" r="6.7"/>
<circle cx="1327.6" cy="678.9" r="6.7"/>
<circle cx="1327.6" cy="677.3" r="6.7"/>
<circle cx="1327.7" cy="675.6" r="6.7"/>
<circle cx="1327.8" cy="674.0" r="6.7"/>
<circle cx="1327.8" cy="672.4" r="6.7"/>
<circle cx="1327.9" cy="670.8" r="6.7"/>
<circle cx="1327.9" cy="669.2" r="6.7"/>
<circle cx="1328.0" cy="667.6" r="6.7"/>
<circle cx="1328.1" cy="666.0" r="6.7"/>
<circle cx="1328.1" cy="664.3" r="6.7"/>
<circle cx="1328.2" cy="662.7" r="6.7"/>
<circle cx="1328.2" cy="661.1" r="6.7"/>
<circle cx="1328.3" cy="659.6" r="6.7"/>
<circle cx="1328.4" cy="658.0" r="6.7"/>
<circle cx="1328.4" cy="656.4" r="6.7"/>
<circle cx="1328.5" cy="654.8" r="6.7"/>
<circle cx="1328.5" cy="653.2" r="6.7"/>
<circle cx="1328.6" cy="651.6" r="6.7"/>
<circle cx="1328.7" cy="650.1" r="6.7"/>
<circle cx="1328.7" cy="648.5" r="6.7"/>
<circle cx="1328.8" cy="646.9" r="6.7"/>
<circle cx="1328.8" cy="645.4" r="6.7"/>
<circle cx="1328.9" cy="643.8" r="6.7"/>
<circle cx="1329.0" cy="642.3" r="6.7"/>
<circle cx="1329.0" cy="640.7" r="6.7"/>
<circle cx="1329.1" cy="639.2" r="6.7"/>
<circle cx="1329.1" cy="637.7" r="6.7"/>
<circle cx="1329.2" cy="636.1" r="6.7"/>
<circle cx="1329.3" cy="634.6" r="6.7"/>
<circle cx="1329.3" cy="633.1" r="6.7"/>
<circle cx="1329.4" cy="631.5" r="6.7"/>
<circle cx="1329.4" cy="630.0" r="6.7"/>
<circle cx="1329.5" cy="628.5" r="6.7"/>
<circle cx="1329.6" cy="627.0" r="6.7"/>
<circle cx="1329.6" cy="625.5" r="6.7"/>
<circle cx="1329.7" cy="624.0" r="6.7"/>
<circle cx="1357.4" cy="573.2" r="6.7"/>
<circle cx="1357.4" cy="576.7" r="6.7"/>
<circle cx="1357.4" cy="580.4" r="6.7"/>
<circle cx="1357.4" cy="586.1" r="6.7"/>
<circle cx="1357.4" cy="590.9" r="6.7"/>
<circle cx="1357.4" cy="594.4" r="6.7"/>
<circle cx="1357.4" cy="600.0" r="6.7"/>
<circle cx="1357.4" cy="603.9" r="6.7"/>
<circle cx="1357.4" cy="607.4" r="6.7"/>
<circle cx="1357.4" cy="612.1" r="6.7"/>
<circle cx="1357.4" cy="616.0" r="6.7"/>
<circle cx="1357.4" cy="620.6" r="6.7"/>
<circle cx="1357.4" cy="625.3" r="6.7"/>
<circle cx="1357.4" cy="629.1" r="6.7"/>
<circle cx="1357.4" cy="634.0" r="6.7"/>
<circle cx="1357.4" cy="637.5" r="6.7"/>
<circle cx="1357.4" cy="642.1" r="6.7"/>
<circle cx="1357.4" cy="647.0" r="6.7"/>
<circle cx="1357.4" cy="650.4" r="6.7"/>
<circle cx="1357.4" cy="654.8" r="6.7"/>
<circle cx="1357.4" cy="658.2" r="6.7"/>
<circle cx="1357.4" cy="662.6" r="6.7"/>
<circle cx="1357.4" cy="668.2" r="6.7"/>
<circle cx="1357.4" cy="672.9" r="6.7"/>
<circle cx="1357.4" cy="678.1" r="6.7"/>
<circle cx="1357.4" cy="683.5" r="6.7"/>
<circle cx="1357.4" cy="687.0" r="6.7"/>
<circle cx="1357.4" cy="692.9" r="6.7"/>
<circle cx="1357.4" cy="698.2" r="6.7"/>
<circle cx="1357.4" cy="701.7" r="6.7"/>
<circle cx="1357.4" cy="707.2" r="6.7"/>
<circle cx="1357.4" cy="711.5" r="6.7"/>
<circle cx="1357.4" cy="715.2" r="6.7"/>
<circle cx="1357.4" cy="721.0" r="6.7"/>
<circle cx="1357.4" cy="725.8" r="6.7"/>
<circle cx="1357.4" cy="731.2" r="6.7"/>
<circle cx="1357.4" cy="734.8" r="6.7"/>
<circle cx="1357.4" cy="740.1" r="6.7"/>
<circle cx="1357.4" cy="743.5" r="6.7"/>
<circle cx="1357.4" cy="747.4" r="6.7"/>
<circle cx="1357.4" cy="751.6" r="6.7"/>
<circle cx="1357.4" cy="754.9" r="6.7"/>
<circle cx="1357.4" cy="759.7" r="6.7"/>
<circle cx="1357.4" cy="763.6" r="6.7"/>
<circle cx="1357.8" cy="695.7" r="6.7"/>
<circle cx="1357.9" cy="685.5" r="6.7"/>
<circle cx="1357.9" cy="676.9" r="6.7"/>
<circle cx="1358.0" cy="665.8" r="6.7"/>
<circle cx="1358.0" cy="656.2" r="6.7"/>
<circle cx="1358.0" cy="645.2" r="6.7"/>
<circle cx="1358.1" cy="635.8" r="6.7"/>
<circle cx="1358.1" cy="624.6" r="6.7"/>
<circle cx="1358.2" cy="613.6" r="6.7"/>
<circle cx="1358.2" cy="606.4" r="6.7"/>
<circle cx="1358.2" cy="596.0" r="6.7"/>
<circle cx="1358.2" cy="587.9" r="6.7"/>
<circle cx="1358.3" cy="577.5" r="6.7"/>
<circle cx="1358.3" cy="578.4" r="6.7"/>
<circle cx="1358.3" cy="589.2" r="6.7"/>
<circle cx="1358.3" cy="596.1" r="6.7"/>
<circle cx="1358.3" cy="604.5" r="6.7"/>
<circle cx="1358.3" cy="614.7" r="6.7"/>
<circle cx="1358.3" cy="626.2" r="6.7"/>
<circle cx="1358.3" cy="636.4" r="6.7"/>
<circle cx="1358.3" cy="642.9" r="6.7"/>
<circle cx="1358.3" cy="652.5" r="6.7"/>
<circle cx="1358.3" cy="659.3" r="6.7"/>
<circle cx="1358.3" cy="668.6" r="6.7"/>
<circle cx="1358.3" cy="679.2" r="6.7"/>
<circle cx="1358.3" cy="686.1" r="6.7"/>
<circle cx="1358.3" cy="697.4" r="6.7"/>
<circle cx="1358.3" cy="707.3" r="6.7"/>
<circle cx="1358.3" cy="715.0" r="6.7"/>
<circle cx="1358.3" cy="722.4" r="6.7"/>
<circle cx="1358.4" cy="731.1" r="6.7"/>
<circle cx="1358.4" cy="741.9" r="6.7"/>
<circle cx="1358.4" cy="751.3" r="6.7"/>
<circle cx="1358.5" cy="758.3" r="6.7"/>
<circle cx="1365.0" cy="762.4" r="6.7"/>
<circle cx="1365.0" cy="760.3" r="6.7"/>
<circle cx="1365.1" cy="758.2" r="6.7"/>
<circle cx="1365.2" cy="756.1" r="6.7"/>
<circle cx="1365.2" cy="754.0" r="6.7"/>
<circle cx="1365.3" cy="751.9" r="6.7"/>
<circle cx="1365.3" cy="749.8" r="6.7"/>
<circle cx="1365.4" cy="747.7" r="6.7"/>
<circle cx="1365.5" cy="745.6" r="6.7"/>
<circle cx="1365.5" cy="743.5" r="6.7"/>
<circle cx="1365.6" cy="741.4" r="6.7"/>
<circle cx="1365.6" cy="739.3" r="6.7"/>
<circle cx="1365.7" cy="737.3" r="6.7"/>
<circle cx="1365.8" cy="735.2" r="6.7"/>
<circle cx="1365.8" cy="733.1" r="6.7"/>
<circle cx="1365.9" cy="731.1" r="6.7"/>
<circle cx="1365.9" cy="729.0" r="6.7"/>
<circle cx="1366.0" cy="727.0" r="6.7"/>
<circle cx="1366.1" cy="724.9" r="6.7"/>
<circle cx="1366.1" cy="722.9" r="6.7"/>
<circle cx="1366.2" cy="720.8" r="6.7"/>
<circle cx="1366.2" cy="718.8" r="6.7"/>
<circle cx="1366.3" cy="716.8" r="6.7"/>
<circle cx="1366.4" cy="714.8" r="6.7"/>
<circle cx="1366.4" cy="712.7" r="6.7"/>
<circle cx="1366.5" cy="710.7" r="6.7"/>
<circle cx="1366.5" cy="708.7" r="6.7"/>
<circle cx="1366.6" cy="706.7" r="6.7"/>
<circle cx="1366.7" cy="704.7" r="6.7"/>
<circle cx="1366.7" cy="702.7" r="6.7"/>
<circle cx="1366.8" cy="700.7" r="6.7"/>
<circle cx="1366.8" cy="698.7" r="6.7"/>
<circle cx="1366.9" cy="696.7" r="6.7"/>
<circle cx="1367.0" cy="694.8" r="6.7"/>
<circle cx="1367.0" cy="692.8" r="6.7"/>
<circle cx="1367.1" cy="690.8" r="6.7"/>
<circle cx="1367.1" cy="688.8" r="6.7"/>
<circle cx="1367.2" cy="686.9" r="6.7"/>
<circle cx="1367.3" cy="684.9" r="6.7"/>
<circle cx="1367.3" cy="683.0" r="6.7"/>
<circle cx="1367.4" cy="681.0" r="6.7"/>
<circle cx="1367.4" cy="679.1" r="6.7"/>
<circle cx="1367.5" cy="677.1" r="6.7"/>
<circle cx="1367.6" cy="675.2" r="6.7"/>
<circle cx="1367.6" cy="673.3" r="6.7"/>
<circle cx="1367.7" cy="671.3" r="6.7"/>
<circle cx="1367.7" cy="669.4" r="6.7"/>
<circle cx="1367.8" cy="667.5" r="6.7"/>
<circle cx="1367.9" cy="665.6" r="6.7"/>
<circle cx="1367.9" cy="663.7" r="6.7"/>
<circle cx="1368.0" cy="661.8" r="6.7"/>
<circle cx="1368.0" cy="659.9" r="6.7"/>
<circle cx="1368.1" cy="658.0" r="6.7"/>
<circle cx="1368.2" cy="656.1" r="6.7"/>
<circle cx="1368.2" cy="654.2" r="6.7"/>
<circle cx="1368.3" cy="652.3" r="6.7"/>
<circle cx="1368.3" cy="650.4" r="6.7"/>
<circle cx="1368.4" cy="648.6" r="6.7"/>
<circle cx="1368.5" cy="646.7" r="6.7"/>
<circle cx="1368.5" cy="644.8" r="6.7"/>
<circle cx="1368.6" cy="643.0" r="6.7"/>
<circle cx="1368.6" cy="641.1" r="6.7"/>
<circle cx="1368.7" cy="639.2" r="6.7"/>
<circle cx="1368.8" cy="637.4" r="6.7"/>
<circle cx="1368.8" cy="635.6" r="6.7"/>
<circle cx="1368.9" cy="633.7" r="6.7"/>
<circle cx="1368.9" cy="631.9" r="6.7"/>
<circle cx="1369.0" cy="630.1" r="6.7"/>
<circle cx="1369.1" cy="628.2" r="6.7"/>
<circle cx="1369.1" cy="626.4" r="6.7"/>
<circle cx="1369.2" cy="624.6" r="6.7"/>
<circle cx="1369.2" cy="622.8" r="6.7"/>
<circle cx="1369.3" cy="621.0" r="6.7"/>
<circle cx="1369.4" cy="619.2" r="6.7"/>
<circle cx="1369.4" cy="617.4" r="6.7"/>
<circle cx="1369.5" cy="615.6" r="6.7"/>
<circle cx="1369.5" cy="613.8" r="6.7"/>
<circle cx="1369.6" cy="612.0" r="6.7"/>
<circle cx="1369.7" cy="610.2" r="6.7"/>
<circle cx="1369.7" cy="608.4" r="6.7"/>
<circle cx="1369.8" cy="606.7" r="6.7"/>
<circle cx="1369.8" cy="604.9" r="6.7"/>
<circle cx="1369.9" cy="603.1" r="6.7"/>
<circle cx="1370.0" cy="601.4" r="6.7"/>
<circle cx="1370.0" cy="599.6" r="6.7"/>
<circle cx="1370.1" cy="597.9" r="6.7"/>
<circle cx="1370.1" cy="596.1" r="6.7"/>
<circle cx="1370.2" cy="594.4" r="6.7"/>
<circle cx="1370.3" cy="592.6" r="6.7"/>
<circle cx="1370.3" cy="590.9" r="6.7"/>
<circle cx="1370.4" cy="589.2" r="6.7"/>
<circle cx="1370.4" cy="587.5" r="6.7"/>
<circle cx="1370.5" cy="585.7" r="6.7"/>
<circle cx="1370.6" cy="584.0" r="6.7"/>
<circle cx="1370.6" cy="582.3" r="6.7"/>
<circle cx="1370.7" cy="580.6" r="6.7"/>
<circle cx="1370.7" cy="578.9" r="6.7"/>
<circle cx="1370.8" cy="577.2" r="6.7"/>
<circle cx="1370.9" cy="575.5" r="6.7"/>
<circle cx="1370.9" cy="573.8" r="6.7"/>
<circle cx="1371.0" cy="572.1" r="6.7"/>
<circle cx="1397.0" cy="574.1" r="6.7"/>
<circle cx="1397.0" cy="578.8" r="6.7"/>
<circle cx="1397.0" cy="584.6" r="6.7"/>
<circle cx="1397.0" cy="588.2" r="6.7"/>
<circle cx="1397.0" cy="591.4" r="6.7"/>
<circle cx="1397.0" cy="596.0" r="6.7"/>
<circle cx="1397.0" cy="601.0" r="6.7"/>
<circle cx="1397.0" cy="606.3" r="6.7"/>
<circle cx="1397.0" cy="610.6" r="6.7"/>
<circle cx="1397.0" cy="616.5" r="6.7"/>
<circle cx="1397.0" cy="620.4" r="6.7"/>
<circle cx="1397.0" cy="625.7" r="6.7"/>
<circle cx="1397.0" cy="629.1" r="6.7"/>
<circle cx="1397.0" cy="632.4" r="6.7"/>
<circle cx="1397.0" cy="636.0" r="6.7"/>
<circle cx="1397.0" cy="639.4" r="6.7"/>
<circle cx="1397.0" cy="644.0" r="6.7"/>
<circle cx="1397.0" cy="648.8" r="6.7"/>
<circle cx="1397.0" cy="652.5" r="6.7"/>
<circle cx="1397.0" cy="658.3" r="6.7"/>
<circle cx="1397.0" cy="662.5" r="6.7"/>
<circle cx="1397.0" cy="666.2" r="6.7"/>
<circle cx="1397.0" cy="669.9" r="6.7"/>
<circle cx="1397.0" cy="675.1" r="6.7"/>
<circle cx="1397.0" cy="680.9" r="6.7"/>
<circle cx="1397.0" cy="684.6" r="6.7"/>
<circle cx="1397.0" cy="687.9" r="6.7"/>
<circle cx="1397.0" cy="693.2" r="6.7"/>
<circle cx="1397.0" cy="697.1" r="6.7"/>
<circle cx="1397.0" cy="703.1" r="6.7"/>
<circle cx="1397.0" cy="707.6" r="6.7"/>
<circle cx="1397.0" cy="712.6" r="6.7"/>
<circle cx="1397.0" cy="716.8" r="6.7"/>
<circle cx="1397.0" cy="722.2" r="6.7"/>
<circle cx="1397.0" cy="726.7" r="6.7"/>
<circle cx="1397.0" cy="730.8" r="6.7"/>
<circle cx="1397.0" cy="736.5" r="6.7"/>
<circle cx="1397.0" cy="740.1" r="6.7"/>
<circle cx="1397.0" cy="745.3" r="6.7"/>
<circle cx="1397.0" cy="748.7" r="6.7"/>
<circle cx="1397.0" cy="753.7" r="6.7"/>
<circle cx="1397.0" cy="758.0" r="6.7"/>
<circle cx="1397.0" cy="763.6" r="6.7"/>
<circle cx="1397.5" cy="659.7" r="6.7"/>
<circle cx="1397.5" cy="650.3" r="6.7"/>
<circle cx="1397.5" cy="641.8" r="6.7"/>
<circle cx="1397.5" cy="630.6" r="6.7"/>
<circle cx="1397.6" cy="619.2" r="6.7"/>
<circle cx="1397.6" cy="609.5" r="6.7"/>
<circle cx="1397.6" cy="602.0" r="6.7"/>
<circle cx="1397.7" cy="594.3" r="6.7"/>
<circle cx="1397.7" cy="586.6" r="6.7"/>
<circle cx="1397.7" cy="577.9" r="6.7"/>
<circle cx="1397.9" cy="574.9" r="6.7"/>
<circle cx="1397.9" cy="582.6" r="6.7"/>
<circle cx="1397.9" cy="593.0" r="6.7"/>
<circle cx="1397.9" cy="603.7" r="6.7"/>
<circle cx="1397.9" cy="611.5" r="6.7"/>
<circle cx="1397.9" cy="619.6" r="6.7"/>
<circle cx="1397.9" cy="628.5" r="6.7"/>
<circle cx="1397.9" cy="639.7" r="6.7"/>
<circle cx="1397.9" cy="646.8" r="6.7"/>
<circle cx="1397.9" cy="656.8" r="6.7"/>
<circle cx="1397.9" cy="666.3" r="6.7"/>
<circle cx="1397.9" cy="675.1" r="6.7"/>
<circle cx="1397.9" cy="684.5" r="6.7"/>
<circle cx="1398.0" cy="695.6" r="6.7"/>
<circle cx="1398.0" cy="703.0" r="6.7"/>
<circle cx="1398.0" cy="714.1" r="6.7"/>
<circle cx="1398.0" cy="722.3" r="6.7"/>
<circle cx="1398.1" cy="732.8" r="6.7"/>
<circle cx="1398.1" cy="743.8" r="6.7"/>
<circle cx="1398.2" cy="751.1" r="6.7"/>
<circle cx="1398.3" cy="762.1" r="6.7"/>
<circle cx="1403.5" cy="762.0" r="6.7"/>
<circle cx="1403.6" cy="759.5" r="6.7"/>
<circle cx="1403.7" cy="757.1" r="6.7"/>
<circle cx="1403.7" cy="754.7" r="6.7"/>
<circle cx="1403.8" cy="752.2" r="6.7"/>
<circle cx="1403.8" cy="749.8" r="6.7"/>
<circle cx="1403.9" cy="747.4" r="6.7"/>
<circle cx="1404.0" cy="745.0" r="6.7"/>
<circle cx="1404.0" cy="742.6" r="6.7"/>
<circle cx="1404.1" cy="740.2" r="6.7"/>
<circle cx="1404.1" cy="737.8" r="6.7"/>
<circle cx="1404.2" cy="735.4" r="6.7"/>
<circle cx="1404.3" cy="733.0" r="6.7"/>
<circle cx="1404.3" cy="730.7" r="6.7"/>
<circle cx="1404.4" cy="728.3" r="6.7"/>
<circle cx="1404.4" cy="725.9" r="6.7"/>
<circle cx="1404.5" cy="723.5" r="6.7"/>
<circle cx="1404.6" cy="721.2" r="6.7"/>
<circle cx="1404.6" cy="718.8" r="6.7"/>
<circle cx="1404.7" cy="716.5" r="6.7"/>
<circle cx="1404.7" cy="714.1" r="6.7"/>
<circle cx="1404.8" cy="711.8" r="6.7"/>
<circle cx="1404.9" cy="709.5" r="6.7"/>
<circle cx="1404.9" cy="707.1" r="6.7"/>
<circle cx="1405.0" cy="704.8" r="6.7"/>
<circle cx="1405.0" cy="702.5" r="6.7"/>
<circle cx="1405.1" cy="700.2" r="6.7"/>
<circle cx="1405.2" cy="697.9" r="6.7"/>
<circle cx="1405.2" cy="695.6" r="6.7"/>
<circle cx="1405.3" cy="693.3" r="6.7"/>
<circle cx="1405.3" cy="691.0" r="6.7"/>
<circle cx="1405.4" cy="688.7" r="6.7"/>
<circle cx="1405.5" cy="686.4" r="6.7"/>
<circle cx="1405.5" cy="684.2" r="6.7"/>
<circle cx="1405.6" cy="681.9" r="6.7"/>
<circle cx="1405.6" cy="679.6" r="6.7"/>
<circle cx="1405.7" cy="677.4" r="6.7"/>
<circle cx="1405.8" cy="675.1" r="6.7"/>
<circle cx="1405.8" cy="672.8" r="6.7"/>
<circle cx="1405.9" cy="670.6" r="6.7"/>
<circle cx="1405.9" cy="668.4" r="6.7"/>
<circle cx="1406.0" cy="666.1" r="6.7"/>
<circle cx="1406.1" cy="663.9" r="6.7"/>
<circle cx="1406.1" cy="661.7" r="6.7"/>
<circle cx="1406.2" cy="659.4" r="6.7"/>
<circle cx="1406.2" cy="657.2" r="6.7"/>
<circle cx="1406.3" cy="655.0" r="6.7"/>
<circle cx="1406.4" cy="652.8" r="6.7"/>
<circle cx="1406.4" cy="650.6" r="6.7"/>
<circle cx="1406.5" cy="648.4" r="6.7"/>
<circle cx="1406.5" cy="646.2" r="6.7"/>
<circle cx="1406.6" cy="644.0" r="6.7"/>
<circle cx="1406.7" cy="641.9" r="6.7"/>
<circle cx="1406.7" cy="639.7" r="6.7"/>
<circle cx="1406.8" cy="637.5" r="6.7"/>
<circle cx="1406.8" cy="635.4" r="6.7"/>
<circle cx="1406.9" cy="633.2" r="6.7"/>
<circle cx="1407.0" cy="631.0" r="6.7"/>
<circle cx="1407.0" cy="628.9" r="6.7"/>
<circle cx="1407.1" cy="626.7" r="6.7"/>
<circle cx="1407.1" cy="624.6" r="6.7"/>
<circle cx="1407.2" cy="622.5" r="6.7"/>
<circle cx="1407.3" cy="620.3" r="6.7"/>
<circle cx="1407.3" cy="618.2" r="6.7"/>
<circle cx="1407.4" cy="616.1" r="6.7"/>
<circle cx="1407.4" cy="614.0" r="6.7"/>
<circle cx="1407.5" cy="611.9" r="6.7"/>
<circle cx="1407.6" cy="609.8" r="6.7"/>
<circle cx="1407.6" cy="607.7" r="6.7"/>
<circle cx="1407.7" cy="605.6" r="6.7"/>
<circle cx="1407.7" cy="603.5" r="6.7"/>
<circle cx="1407.8" cy="601.4" r="6.7"/>
<circle cx="1407.9" cy="599.3" r="6.7"/>
<circle cx="1407.9" cy="597.2" r="6.7"/>
<circle cx="1408.0" cy="595.2" r="6.7"/>
<circle cx="1408.0" cy="593.1" r="6.7"/>
<circle cx="1408.1" cy="591.0" r="6.7"/>
<circle cx="1408.2" cy="589.0" r="6.7"/>
<circle cx="1408.2" cy="586.9" r="6.7"/>
<circle cx="1408.3" cy="584.9" r="6.7"/>
<circle cx="1408.3" cy="582.9" r="6.7"/>
<circle cx="1408.4" cy="580.8" r="6.7"/>
<circle cx="1408.5" cy="578.8" r="6.7"/>
<circle cx="1408.5" cy="576.8" r="6.7"/>
<circle cx="1408.6" cy="574.8" r="6.7"/>
<circle cx="1408.6" cy="572.7" r="6.7"/>
<circle cx="1435.7" cy="572.8" r="6.7"/>
<circle cx="1435.7" cy="578.5" r="6.7"/>
<circle cx="1435.7" cy="583.8" r="6.7"/>
<circle cx="1435.7" cy="587.1" r="6.7"/>
<circle cx="1435.7" cy="592.0" r="6.7"/>
<circle cx="1435.7" cy="596.5" r="6.7"/>
<circle cx="1435.7" cy="601.0" r="6.7"/>
<circle cx="1435.7" cy="606.5" r="6.7"/>
<circle cx="1435.7" cy="610.9" r="6.7"/>
<circle cx="1435.7" cy="615.4" r="6.7"/>
<circle cx="1435.7" cy="621.1" r="6.7"/>
<circle cx="1435.7" cy="625.5" r="6.7"/>
<circle cx="1435.7" cy="630.1" r="6.7"/>
<circle cx="1435.7" cy="634.7" r="6.7"/>
<circle cx="1435.7" cy="640.2" r="6.7"/>
<circle cx="1435.7" cy="645.3" r="6.7"/>
<circle cx="1435.7" cy="650.5" r="6.7"/>
<circle cx="1435.7" cy="654.9" r="6.7"/>
<circle cx="1435.7" cy="658.2" r="6.7"/>
<circle cx="1435.7" cy="663.3" r="6.7"/>
<circle cx="1435.7" cy="668.0" r="6.7"/>
<circle cx="1435.7" cy="673.4" r="6.7"/>
<circle cx="1435.7" cy="678.7" r="6.7"/>
<circle cx="1435.7" cy="682.3" r="6.7"/>
<circle cx="1435.7" cy="686.1" r="6.7"/>
<circle cx="1435.7" cy="689.5" r="6.7"/>
<circle cx="1435.7" cy="695.0" r="6.7"/>
<circle cx="1435.7" cy="698.5" r="6.7"/>
<circle cx="1435.7" cy="702.0" r="6.7"/>
<circle cx="1435.7" cy="707.3" r="6.7"/>
<circle cx="1435.7" cy="712.1" r="6.7"/>
<circle cx="1435.7" cy="715.4" r="6.7"/>
<circle cx="1435.7" cy="720.5" r="6.7"/>
<circle cx="1435.7" cy="725.7" r="6.7"/>
<circle cx="1435.7" cy="730.3" r="6.7"/>
<circle cx="1435.7" cy="733.6" r="6.7"/>
<circle cx="1435.7" cy="738.8" r="6.7"/>
<circle cx="1435.7" cy="743.1" r="6.7"/>
<circle cx="1435.7" cy="748.0" r="6.7"/>
<circle cx="1435.7" cy="753.9" r="6.7"/>
<circle cx="1435.7" cy="759.4" r="6.7"/>
<circle cx="1436.2" cy="620.1" r="6.7"/>
<circle cx="1436.2" cy="611.9" r="6.7"/>
<circle cx="1436.2" cy="602.9" r="6.7"/>
<circle cx="1436.2" cy="596.5" r="6.7"/>
<circle cx="1436.3" cy="584.9" r="6.7"/>
<circle cx="1436.3" cy="577.1" r="6.7"/>
<circle cx="1436.6" cy="582.0" r="6.7"/>
<circle cx="1436.6" cy="591.3" r="6.7"/>
<circle cx="1436.6" cy="597.9" r="6.7"/>
<circle cx="1436.6" cy="605.9" r="6.7"/>
<circle cx="1436.6" cy="615.0" r="6.7"/>
<circle cx="1436.6" cy="623.6" r="6.7"/>
<circle cx="1436.6" cy="632.9" r="6.7"/>
<circle cx="1436.6" cy="640.9" r="6.7"/>
<circle cx="1436.6" cy="648.7" r="6.7"/>
<circle cx="1436.7" cy="659.3" r="6.7"/>
<circle cx="1436.7" cy="667.2" r="6.7"/>
<circle cx="1436.7" cy="677.3" r="6.7"/>
<circle cx="1436.7" cy="688.0" r="6.7"/>
<circle cx="1436.8" cy="697.5" r="6.7"/>
<circle cx="1436.8" cy="706.2" r="6.7"/>
<circle cx="1436.9" cy="717.6" r="6.7"/>
<circle cx="1436.9" cy="726.3" r="6.7"/>
<circle cx="1437.0" cy="737.3" r="6.7"/>
<circle cx="1437.1" cy="743.9" r="6.7"/>
<circle cx="1437.2" cy="752.6" r="6.7"/>
<circle cx="1437.3" cy="762.3" r="6.7"/>
<circle cx="1441.1" cy="763.2" r="6.7"/>
<circle cx="1441.2" cy="760.3" r="6.7"/>
<circle cx="1441.2" cy="757.3" r="6.7"/>
<circle cx="1441.3" cy="754.4" r="6.7"/>
<circle cx="1441.3" cy="751.5" r="6.7"/>
<circle cx="1441.4" cy="748.6" r="6.7"/>
<circle cx="1441.5" cy="745.7" r="6.7"/>
<circle cx="1441.5" cy="742.8" r="6.7"/>
<circle cx="1441.6" cy="740.0" r="6.7"/>
<circle cx="1441.6" cy="737.1" r="6.7"/>
<circle cx="1441.7" cy="734.2" r="6.7"/>
<circle cx="1441.8" cy="731.3" r="6.7"/>
<circle cx="1441.8" cy="728.5" r="6.7"/>
<circle cx="1441.9" cy="725.6" r="6.7"/>
<circle cx="1441.9" cy="722.8" r="6.7"/>
<circle cx="1442.0" cy="720.0" r="6.7"/>
<circle cx="1442.1" cy="717.1" r="6.7"/>
<circle cx="1442.1" cy="714.3" r="6.7"/>
<circle cx="1442.2" cy="711.5" r="6.7"/>
<circle cx="1442.2" cy="708.7" r="6.7"/>
<circle cx="1442.3" cy="705.9" r="6.7"/>
<circle cx="1442.4" cy="703.1" r="6.7"/>
<circle cx="1442.4" cy="700.3" r="6.7"/>
<circle cx="1442.5" cy="697.5" r="6.7"/>
<circle cx="1442.5" cy="694.7" r="6.7"/>
<circle cx="1442.6" cy="692.0" r="6.7"/>
<circle cx="1442.7" cy="689.2" r="6.7"/>
<circle cx="1442.7" cy="686.4" r="6.7"/>
<circle cx="1442.8" cy="683.7" r="6.7"/>
<circle cx="1442.8" cy="680.9" r="6.7"/>
<circle cx="1442.9" cy="678.2" r="6.7"/>
<circle cx="1443.0" cy="675.5" r="6.7"/>
<circle cx="1443.0" cy="672.7" r="6.7"/>
<circle cx="1443.1" cy="670.0" r="6.7"/>
<circle cx="1443.1" cy="667.3" r="6.7"/>
<circle cx="1443.2" cy="664.6" r="6.7"/>
<circle cx="1443.3" cy="661.9" r="6.7"/>
<circle cx="1443.3" cy="659.2" r="6.7"/>
<circle cx="1443.4" cy="656.5" r="6.7"/>
<circle cx="1443.4" cy="653.9" r="6.7"/>
<circle cx="1443.5" cy="651.2" r="6.7"/>
<circle cx="1443.6" cy="648.5" r="6.7"/>
<circle cx="1443.6" cy="645.9" r="6.7"/>
<circle cx="1443.7" cy="643.2" r="6.7"/>
<circle cx="1443.7" cy="640.6" r="6.7"/>
<circle cx="1443.8" cy="637.9" r="6.7"/>
<circle cx="1443.9" cy="635.3" r="6.7"/>
<circle cx="1443.9" cy="632.7" r="6.7"/>
<circle cx="1444.0" cy="630.0" r="6.7"/>
<circle cx="1444.0" cy="627.4" r="6.7"/>
<circle cx="1444.1" cy="624.8" r="6.7"/>
<circle cx="1444.2" cy="622.2" r="6.7"/>
<circle cx="1444.2" cy="619.6" r="6.7"/>
<circle cx="1444.3" cy="617.0" r="6.7"/>
<circle cx="1444.3" cy="614.4" r="6.7"/>
<circle cx="1444.4" cy="611.9" r="6.7"/>
<circle cx="1444.5" cy="609.3" r="6.7"/>
<circle cx="1444.5" cy="606.7" r="6.7"/>
<circle cx="1444.6" cy="604.2" r="6.7"/>
<circle cx="1444.6" cy="601.6" r="6.7"/>
<circle cx="1444.7" cy="599.1" r="6.7"/>
<circle cx="1444.8" cy="596.6" r="6.7"/>
<circle cx="1444.8" cy="594.0" r="6.7"/>
<circle cx="1444.9" cy="591.5" r="6.7"/>
<circle cx="1444.9" cy="589.0" r="6.7"/>
<circle cx="1445.0" cy="586.5" r="6.7"/>
<circle cx="1445.1" cy="584.0" r="6.7"/>
<circle cx="1445.1" cy="581.5" r="6.7"/>
<circle cx="1445.2" cy="579.0" r="6.7"/>
<circle cx="1445.2" cy="576.5" r="6.7"/>
<circle cx="1445.3" cy="574.0" r="6.7"/>
<circle cx="1445.4" cy="571.6" r="6.7"/>
<circle cx="1471.5" cy="571.0" r="6.7"/>
<circle cx="1471.5" cy="576.3" r="6.7"/>
<circle cx="1471.5" cy="579.8" r="6.7"/>
<circle cx="1471.5" cy="585.0" r="6.7"/>
<circle cx="1471.5" cy="590.6" r="6.7"/>
<circle cx="1471.5" cy="594.8" r="6.7"/>
<circle cx="1471.5" cy="597.9" r="6.7"/>
<circle cx="1471.5" cy="602.0" r="6.7"/>
<circle cx="1471.5" cy="606.8" r="6.7"/>
<circle cx="1471.5" cy="610.4" r="6.7"/>
<circle cx="1471.5" cy="615.0" r="6.7"/>
<circle cx="1471.5" cy="618.3" r="6.7"/>
<circle cx="1471.5" cy="622.6" r="6.7"/>
<circle cx="1471.5" cy="627.6" r="6.7"/>
<circle cx="1471.5" cy="631.8" r="6.7"/>
<circle cx="1471.5" cy="636.7" r="6.7"/>
<circle cx="1471.5" cy="640.1" r="6.7"/>
<circle cx="1471.5" cy="645.3" r="6.7"/>
<circle cx="1471.5" cy="648.7" r="6.7"/>
<circle cx="1471.5" cy="654.3" r="6.7"/>
<circle cx="1471.5" cy="660.0" r="6.7"/>
<circle cx="1471.5" cy="665.5" r="6.7"/>
<circle cx="1471.6" cy="670.0" r="6.7"/>
<circle cx="1471.6" cy="673.8" r="6.7"/>
<circle cx="1471.6" cy="677.8" r="6.7"/>
<circle cx="1471.6" cy="682.9" r="6.7"/>
<circle cx="1471.6" cy="687.3" r="6.7"/>
<circle cx="1471.6" cy="692.8" r="6.7"/>
<circle cx="1471.6" cy="696.2" r="6.7"/>
<circle cx="1471.6" cy="700.5" r="6.7"/>
<circle cx="1471.6" cy="705.9" r="6.7"/>
<circle cx="1471.6" cy="710.5" r="6.7"/>
<circle cx="1471.6" cy="715.0" r="6.7"/>
<circle cx="1471.6" cy="718.4" r="6.7"/>
<circle cx="1471.6" cy="721.8" r="6.7"/>
<circle cx="1471.6" cy="725.6" r="6.7"/>
<circle cx="1471.6" cy="731.0" r="6.7"/>
<circle cx="1471.6" cy="736.3" r="6.7"/>
<circle cx="1471.6" cy="740.0" r="6.7"/>
<circle cx="1471.6" cy="745.6" r="6.7"/>
<circle cx="1471.6" cy="748.7" r="6.7"/>
<circle cx="1471.6" cy="753.4" r="6.7"/>
<circle cx="1471.6" cy="759.0" r="6.7"/>
<circle cx="1471.6" cy="763.0" r="6.7"/>
<circle cx="1472.2" cy="594.6" r="6.7"/>
<circle cx="1472.2" cy="584.8" r="6.7"/>
<circle cx="1472.2" cy="578.2" r="6.7"/>
<circle cx="1472.6" cy="576.2" r="6.7"/>
<circle cx="1472.6" cy="583.3" r="6.7"/>
<circle cx="1472.6" cy="590.1" r="6.7"/>
<circle cx="1472.6" cy="601.2" r="6.7"/>
<circle cx="1472.6" cy="608.1" r="6.7"/>
<circle cx="1472.6" cy="617.1" r="6.7"/>
<circle cx="1472.6" cy="626.3" r="6.7"/>
<circle cx="1472.7" cy="633.2" r="6.7"/>
<circle cx="1472.7" cy="642.0" r="6.7"/>
<circle cx="1472.7" cy="649.2" r="6.7"/>
<circle cx="1472.7" cy="658.4" r="6.7"/>
<circle cx="1472.7" cy="667.5" r="6.7"/>
<circle cx="1472.8" cy="675.7" r="6.7"/>
<circle cx="1472.8" cy="683.1" r="6.7"/>
<circle cx="1472.9" cy="691.6" r="6.7"/>
<circle cx="1472.9" cy="699.0" r="6.7"/>
<circle cx="1473.0" cy="706.0" r="6.7"/>
<circle cx="1473.0" cy="713.6" r="6.7"/>
<circle cx="1473.2" cy="724.6" r="6.7"/>
<circle cx="1473.3" cy="733.6" r="6.7"/>
<circle cx="1473.5" cy="744.7" r="6.7"/>
<circle cx="1473.6" cy="751.1" r="6.7"/>
<circle cx="1473.8" cy="762.5" r="6.7"/>
<circle cx="1476.4" cy="761.1" r="6.7"/>
<circle cx="1476.5" cy="757.3" r="6.7"/>
<circle cx="1476.6" cy="753.6" r="6.7"/>
<circle cx="1476.6" cy="749.8" r="6.7"/>
<circle cx="1476.7" cy="746.1" r="6.7"/>
<circle cx="1476.7" cy="742.4" r="6.7"/>
<circle cx="1476.8" cy="738.7" r="6.7"/>
<circle cx="1476.9" cy="735.0" r="6.7"/>
<circle cx="1476.9" cy="731.3" r="6.7"/>
<circle cx="1477.0" cy="727.6" r="6.7"/>
<circle cx="1477.0" cy="723.9" r="6.7"/>
<circle cx="1477.1" cy="720.3" r="6.7"/>
<circle cx="1477.2" cy="716.6" r="6.7"/>
<circle cx="1477.2" cy="712.9" r="6.7"/>
<circle cx="1477.3" cy="709.3" r="6.7"/>
<circle cx="1477.3" cy="705.7" r="6.7"/>
<circle cx="1477.4" cy="702.0" r="6.7"/>
<circle cx="1477.5" cy="698.4" r="6.7"/>
<circle cx="1477.5" cy="694.8" r="6.7"/>
<circle cx="1477.6" cy="691.2" r="6.7"/>
<circle cx="1477.6" cy="687.6" r="6.7"/>
<circle cx="1477.7" cy="684.0" r="6.7"/>
<circle cx="1477.8" cy="680.4" r="6.7"/>
<circle cx="1477.8" cy="676.9" r="6.7"/>
<circle cx="1477.9" cy="673.3" r="6.7"/>
<circle cx="1477.9" cy="669.8" r="6.7"/>
<circle cx="1478.0" cy="666.2" r="6.7"/>
<circle cx="1478.1" cy="662.7" r="6.7"/>
<circle cx="1478.1" cy="659.1" r="6.7"/>
<circle cx="1478.2" cy="655.6" r="6.7"/>
<circle cx="1478.2" cy="652.1" r="6.7"/>
<circle cx="1478.3" cy="648.6" r="6.7"/>
<circle cx="1478.4" cy="645.1" r="6.7"/>
<circle cx="1478.4" cy="641.6" r="6.7"/>
<circle cx="1478.5" cy="638.1" r="6.7"/>
<circle cx="1478.5" cy="634.7" r="6.7"/>
<circle cx="1478.6" cy="631.2" r="6.7"/>
<circle cx="1478.7" cy="627.8" r="6.7"/>
<circle cx="1478.7" cy="624.3" r="6.7"/>
<circle cx="1478.8" cy="620.9" r="6.7"/>
<circle cx="1478.8" cy="617.4" r="6.7"/>
<circle cx="1478.9" cy="614.0" r="6.7"/>
<circle cx="1479.0" cy="610.6" r="6.7"/>
<circle cx="1479.0" cy="607.2" r="6.7"/>
<circle cx="1479.1" cy="603.8" r="6.7"/>
<circle cx="1479.1" cy="600.4" r="6.7"/>
<circle cx="1479.2" cy="597.0" r="6.7"/>
<circle cx="1479.3" cy="593.7" r="6.7"/>
<circle cx="1479.3" cy="590.3" r="6.7"/>
<circle cx="1479.4" cy="586.9" r="6.7"/>
<circle cx="1479.4" cy="583.6" r="6.7"/>
<circle cx="1479.5" cy="580.2" r="6.7"/>
<circle cx="1479.6" cy="576.9" r="6.7"/>
<circle cx="1479.6" cy="573.6" r="6.7"/>
<circle cx="1507.3" cy="571.0" r="6.7"/>
<circle cx="1507.3" cy="575.2" r="6.7"/>
<circle cx="1507.3" cy="578.5" r="6.7"/>
<circle cx="1507.3" cy="582.2" r="6.7"/>
<circle cx="1507.3" cy="587.2" r="6.7"/>
<circle cx="1507.3" cy="592.1" r="6.7"/>
<circle cx="1507.3" cy="595.6" r="6.7"/>
<circle cx="1507.3" cy="599.6" r="6.7"/>
<circle cx="1507.3" cy="603.0" r="6.7"/>
<circle cx="1507.3" cy="606.6" r="6.7"/>
<circle cx="1507.3" cy="610.3" r="6.7"/>
<circle cx="1507.3" cy="614.2" r="6.7"/>
<circle cx="1507.3" cy="619.9" r="6.7"/>
<circle cx="1507.3" cy="625.6" r="6.7"/>
<circle cx="1507.3" cy="630.8" r="6.7"/>
<circle cx="1507.3" cy="635.1" r="6.7"/>
<circle cx="1507.3" cy="639.5" r="6.7"/>
<circle cx="1507.3" cy="644.6" r="6.7"/>
<circle cx="1507.3" cy="650.1" r="6.7"/>
<circle cx="1507.3" cy="655.2" r="6.7"/>
<circle cx="1507.3" cy="659.9" r="6.7"/>
<circle cx="1507.3" cy="663.5" r="6.7"/>
<circle cx="1507.4" cy="668.3" r="6.7"/>
<circle cx="1507.4" cy="673.6" r="6.7"/>
<circle cx="1507.4" cy="678.7" r="6.7"/>
<circle cx="1507.4" cy="682.1" r="6.7"/>
<circle cx="1507.4" cy="687.0" r="6.7"/>
<circle cx="1507.4" cy="691.0" r="6.7"/>
<circle cx="1507.4" cy="694.5" r="6.7"/>
<circle cx="1507.4" cy="700.2" r="6.7"/>
<circle cx="1507.4" cy="705.0" r="6.7"/>
<circle cx="1507.4" cy="710.1" r="6.7"/>
<circle cx="1507.4" cy="713.5" r="6.7"/>
<circle cx="1507.4" cy="718.8" r="6.7"/>
<circle cx="1507.4" cy="724.3" r="6.7"/>
<circle cx="1507.4" cy="729.8" r="6.7"/>
<circle cx="1507.4" cy="734.9" r="6.7"/>
<circle cx="1507.4" cy="740.1" r="6.7"/>
<circle cx="1507.4" cy="745.3" r="6.7"/>
<circle cx="1507.4" cy="750.0" r="6.7"/>
<circle cx="1507.4" cy="754.2" r="6.7"/>
<circle cx="1507.4" cy="759.5" r="6.7"/>
<circle cx="1512.2" cy="763.2" r="6.7"/>
<circle cx="1512.4" cy="760.5" r="6.7"/>
<circle cx="1512.4" cy="757.3" r="6.7"/>
<circle cx="1512.5" cy="752.6" r="6.7"/>
<circle cx="1512.6" cy="747.9" r="6.7"/>
<circle cx="1512.7" cy="744.5" r="6.7"/>
<circle cx="1512.8" cy="740.1" r="6.7"/>
<circle cx="1512.8" cy="735.6" r="6.7"/>
<circle cx="1512.9" cy="730.9" r="6.7"/>
<circle cx="1513.0" cy="726.5" r="6.7"/>
<circle cx="1513.1" cy="722.6" r="6.7"/>
<circle cx="1513.1" cy="719.7" r="6.7"/>
<circle cx="1513.2" cy="715.2" r="6.7"/>
<circle cx="1513.3" cy="711.8" r="6.7"/>
<circle cx="1513.4" cy="707.7" r="6.7"/>
<circle cx="1513.4" cy="704.2" r="6.7"/>
<circle cx="1513.5" cy="700.3" r="6.7"/>
<circle cx="1513.6" cy="695.4" r="6.7"/>
<circle cx="1513.6" cy="692.4" r="6.7"/>
<circle cx="1513.7" cy="688.6" r="6.7"/>
<circle cx="1513.7" cy="684.4" r="6.7"/>
<circle cx="1513.8" cy="680.5" r="6.7"/>
<circle cx="1513.8" cy="675.7" r="6.7"/>
<circle cx="1513.9" cy="672.1" r="6.7"/>
<circle cx="1513.9" cy="667.4" r="6.7"/>
<circle cx="1514.0" cy="663.2" r="6.7"/>
<circle cx="1514.1" cy="658.3" r="6.7"/>
<circle cx="1514.1" cy="655.4" r="6.7"/>
<circle cx="1514.2" cy="652.3" r="6.7"/>
<circle cx="1514.2" cy="649.0" r="6.7"/>
<circle cx="1514.3" cy="644.2" r="6.7"/>
<circle cx="1514.3" cy="641.6" r="6.7"/>
<circle cx="1514.3" cy="638.3" r="6.7"/>
<circle cx="1514.4" cy="634.0" r="6.7"/>
<circle cx="1514.5" cy="629.1" r="6.7"/>
<circle cx="1514.5" cy="626.0" r="6.7"/>
<circle cx="1514.6" cy="622.4" r="6.7"/>
<circle cx="1514.6" cy="618.1" r="6.7"/>
<circle cx="1514.7" cy="613.9" r="6.7"/>
<circle cx="1514.8" cy="609.6" r="6.7"/>
<circle cx="1514.8" cy="605.2" r="6.7"/>
<circle cx="1514.9" cy="602.0" r="6.7"/>
<circle cx="1514.9" cy="598.7" r="6.7"/>
<circle cx="1514.9" cy="596.0" r="6.7"/>
<circle cx="1515.0" cy="591.7" r="6.7"/>
<circle cx="1515.1" cy="588.6" r="6.7"/>
<circle cx="1515.1" cy="585.4" r="6.7"/>
<circle cx="1515.2" cy="580.5" r="6.7"/>
<circle cx="1515.2" cy="576.4" r="6.7"/>
<circle cx="1515.3" cy="572.4" r="6.7"/>
<circle cx="1541.4" cy="571.0" r="6.7"/>
<circle cx="1541.4" cy="574.3" r="6.7"/>
<circle cx="1541.4" cy="577.9" r="6.7"/>
<circle cx="1541.4" cy="581.1" r="6.7"/>
<circle cx="1541.4" cy="585.4" r="6.7"/>
<circle cx="1541.4" cy="588.8" r="6.7"/>
<circle cx="1541.4" cy="592.4" r="6.7"/>
<circle cx="1541.4" cy="597.5" r="6.7"/>
<circle cx="1541.4" cy="602.1" r="6.7"/>
<circle cx="1541.4" cy="607.6" r="6.7"/>
<circle cx="1541.4" cy="611.8" r="6.7"/>
<circle cx="1541.4" cy="616.7" r="6.7"/>
<circle cx="1541.4" cy="619.8" r="6.7"/>
<circle cx="1541.4" cy="625.3" r="6.7"/>
<circle cx="1541.4" cy="629.0" r="6.7"/>
<circle cx="1541.4" cy="633.4" r="6.7"/>
<circle cx="1541.4" cy="637.8" r="6.7"/>
<circle cx="1541.4" cy="643.4" r="6.7"/>
<circle cx="1541.4" cy="647.8" r="6.7"/>
<circle cx="1541.4" cy="653.5" r="6.7"/>
<circle cx="1541.4" cy="658.2" r="6.7"/>
<circle cx="1541.4" cy="661.8" r="6.7"/>
<circle cx="1541.5" cy="667.1" r="6.7"/>
<circle cx="1541.5" cy="670.7" r="6.7"/>
<circle cx="1541.5" cy="676.5" r="6.7"/>
<circle cx="1541.5" cy="680.7" r="6.7"/>
<circle cx="1541.5" cy="684.4" r="6.7"/>
<circle cx="1541.5" cy="690.0" r="6.7"/>
<circle cx="1541.5" cy="694.0" r="6.7"/>
<circle cx="1541.5" cy="698.1" r="6.7"/>
<circle cx="1541.5" cy="702.1" r="6.7"/>
<circle cx="1541.5" cy="707.0" r="6.7"/>
<circle cx="1541.5" cy="710.1" r="6.7"/>
<circle cx="1541.5" cy="714.2" r="6.7"/>
<circle cx="1541.5" cy="717.7" r="6.7"/>
<circle cx="1541.5" cy="722.9" r="6.7"/>
<circle cx="1541.5" cy="726.0" r="6.7"/>
<circle cx="1541.5" cy="730.7" r="6.7"/>
<circle cx="1541.5" cy="734.5" r="6.7"/>
<circle cx="1541.5" cy="738.7" r="6.7"/>
<circle cx="1541.5" cy="743.3" r="6.7"/>
<circle cx="1541.5" cy="748.3" r="6.7"/>
<circle cx="1541.5" cy="751.7" r="6.7"/>
<circle cx="1541.5" cy="755.4" r="6.7"/>
<circle cx="1541.5" cy="758.8" r="6.7"/>
<circle cx="1541.6" cy="762.0" r="6.7"/>
<circle cx="1543.4" cy="758.3" r="6.7"/>
<circle cx="1544.8" cy="753.6" r="6.7"/>
<circle cx="1545.6" cy="750.3" r="6.7"/>
<circle cx="1546.3" cy="745.9" r="6.7"/>
<circle cx="1546.6" cy="742.7" r="6.7"/>
<circle cx="1546.8" cy="739.6" r="6.7"/>
<circle cx="1547.0" cy="736.6" r="6.7"/>
<circle cx="1547.2" cy="733.0" r="6.7"/>
<circle cx="1547.4" cy="728.9" r="6.7"/>
<circle cx="1547.5" cy="725.6" r="6.7"/>
<circle cx="1547.5" cy="722.5" r="6.7"/>
<circle cx="1547.6" cy="719.4" r="6.7"/>
<circle cx="1547.6" cy="716.5" r="6.7"/>
<circle cx="1547.6" cy="713.4" r="6.7"/>
<circle cx="1547.7" cy="710.1" r="6.7"/>
<circle cx="1547.8" cy="706.2" r="6.7"/>
<circle cx="1547.8" cy="703.2" r="6.7"/>
<circle cx="1547.9" cy="699.4" r="6.7"/>
<circle cx="1547.9" cy="695.8" r="6.7"/>
<circle cx="1548.0" cy="690.9" r="6.7"/>
<circle cx="1548.0" cy="687.1" r="6.7"/>
<circle cx="1548.0" cy="682.3" r="6.7"/>
<circle cx="1548.1" cy="678.6" r="6.7"/>
<circle cx="1548.1" cy="675.4" r="6.7"/>
<circle cx="1548.1" cy="671.4" r="6.7"/>
<circle cx="1548.1" cy="668.4" r="6.7"/>
<circle cx="1548.1" cy="665.4" r="6.7"/>
<circle cx="1548.2" cy="662.6" r="6.7"/>
<circle cx="1548.2" cy="658.3" r="6.7"/>
<circle cx="1548.2" cy="653.4" r="6.7"/>
<circle cx="1548.2" cy="649.9" r="6.7"/>
<circle cx="1548.2" cy="646.4" r="6.7"/>
<circle cx="1548.3" cy="642.8" r="6.7"/>
<circle cx="1548.3" cy="639.3" r="6.7"/>
<circle cx="1548.3" cy="635.1" r="6.7"/>
<circle cx="1548.3" cy="631.5" r="6.7"/>
<circle cx="1548.4" cy="628.5" r="6.7"/>
<circle cx="1548.4" cy="623.9" r="6.7"/>
<circle cx="1548.4" cy="619.9" r="6.7"/>
<circle cx="1548.4" cy="617.2" r="6.7"/>
<circle cx="1548.5" cy="612.6" r="6.7"/>
<circle cx="1548.5" cy="608.3" r="6.7"/>
<circle cx="1548.5" cy="604.9" r="6.7"/>
<circle cx="1548.5" cy="600.8" r="6.7"/>
<circle cx="1548.6" cy="596.0" r="6.7"/>
<circle cx="1548.6" cy="592.4" r="6.7"/>
<circle cx="1548.6" cy="588.8" r="6.7"/>
<circle cx="1548.7" cy="585.4" r="6.7"/>
<circle cx="1548.7" cy="581.5" r="6.7"/>
<circle cx="1548.7" cy="577.3" r="6.7"/>
<circle cx="1548.7" cy="573.0" r="6.7"/>
<circle cx="1573.9" cy="727.3" r="6.7"/>
<circle cx="1574.2" cy="726.1" r="6.7"/>
<circle cx="1574.5" cy="724.9" r="6.7"/>
<circle cx="1574.8" cy="723.7" r="6.7"/>
<circle cx="1575.1" cy="722.5" r="6.7"/>
<circle cx="1573.8" cy="571.0" r="6.7"/>
<circle cx="1573.8" cy="575.9" r="6.7"/>
<circle cx="1573.8" cy="579.8" r="6.7"/>
<circle cx="1573.8" cy="584.9" r="6.7"/>
<circle cx="1573.8" cy="588.7" r="6.7"/>
<circle cx="1573.8" cy="593.4" r="6.7"/>
<circle cx="1573.8" cy="596.9" r="6.7"/>
<circle cx="1573.8" cy="602.2" r="6.7"/>
<circle cx="1573.8" cy="606.6" r="6.7"/>
<circle cx="1573.8" cy="610.4" r="6.7"/>
<circle cx="1573.8" cy="615.9" r="6.7"/>
<circle cx="1573.8" cy="619.2" r="6.7"/>
<circle cx="1573.8" cy="624.7" r="6.7"/>
<circle cx="1573.8" cy="629.8" r="6.7"/>
<circle cx="1573.8" cy="633.3" r="6.7"/>
<circle cx="1573.8" cy="638.4" r="6.7"/>
<circle cx="1573.8" cy="643.0" r="6.7"/>
<circle cx="1573.8" cy="648.4" r="6.7"/>
<circle cx="1573.9" cy="653.1" r="6.7"/>
<circle cx="1573.9" cy="657.3" r="6.7"/>
<circle cx="1573.9" cy="662.8" r="6.7"/>
<circle cx="1573.9" cy="666.1" r="6.7"/>
<circle cx="1573.9" cy="671.3" r="6.7"/>
<circle cx="1573.9" cy="674.6" r="6.7"/>
<circle cx="1573.9" cy="678.4" r="6.7"/>
<circle cx="1573.9" cy="681.8" r="6.7"/>
<circle cx="1573.9" cy="687.2" r="6.7"/>
<circle cx="1573.9" cy="691.4" r="6.7"/>
<circle cx="1573.9" cy="696.4" r="6.7"/>
<circle cx="1573.9" cy="700.2" r="6.7"/>
<circle cx="1573.9" cy="705.2" r="6.7"/>
<circle cx="1573.9" cy="710.0" r="6.7"/>
<circle cx="1573.9" cy="713.3" r="6.7"/>
<circle cx="1573.9" cy="717.7" r="6.7"/>
<circle cx="1573.9" cy="722.7" r="6.7"/>
<circle cx="1573.9" cy="726.3" r="6.7"/>
<circle cx="1574.0" cy="726.7" r="6.7"/>
<circle cx="1575.4" cy="723.5" r="6.7"/>
<circle cx="1576.5" cy="718.9" r="6.7"/>
<circle cx="1577.1" cy="716.1" r="6.7"/>
<circle cx="1577.7" cy="711.2" r="6.7"/>
<circle cx="1577.8" cy="708.0" r="6.7"/>
<circle cx="1578.0" cy="703.4" r="6.7"/>
<circle cx="1578.1" cy="700.2" r="6.7"/>
<circle cx="1578.3" cy="696.2" r="6.7"/>
<circle cx="1578.3" cy="692.7" r="6.7"/>
<circle cx="1578.3" cy="689.9" r="6.7"/>
<circle cx="1578.4" cy="685.4" r="6.7"/>
<circle cx="1578.4" cy="680.9" r="6.7"/>
<circle cx="1578.4" cy="677.6" r="6.7"/>
<circle cx="1578.4" cy="673.2" r="6.7"/>
<circle cx="1578.4" cy="669.5" r="6.7"/>
<circle cx="1578.5" cy="664.6" r="6.7"/>
<circle cx="1578.5" cy="661.8" r="6.7"/>
<circle cx="1578.5" cy="658.2" r="6.7"/>
<circle cx="1578.5" cy="655.1" r="6.7"/>
<circle cx="1578.5" cy="651.0" r="6.7"/>
<circle cx="1578.6" cy="646.5" r="6.7"/>
<circle cx="1578.6" cy="642.0" r="6.7"/>
<circle cx="1578.6" cy="638.1" r="6.7"/>
<circle cx="1578.6" cy="634.5" r="6.7"/>
<circle cx="1578.7" cy="630.0" r="6.7"/>
<circle cx="1578.7" cy="627.1" r="6.7"/>
<circle cx="1578.7" cy="623.9" r="6.7"/>
<circle cx="1578.8" cy="619.5" r="6.7"/>
<circle cx="1578.8" cy="615.8" r="6.7"/>
<circle cx="1578.8" cy="610.9" r="6.7"/>
<circle cx="1578.8" cy="608.1" r="6.7"/>
<circle cx="1578.9" cy="604.3" r="6.7"/>
<circle cx="1578.9" cy="601.2" r="6.7"/>
<circle cx="1578.9" cy="598.5" r="6.7"/>
<circle cx="1578.9" cy="595.7" r="6.7"/>
<circle cx="1579.0" cy="592.8" r="6.7"/>
<circle cx="1579.0" cy="589.3" r="6.7"/>
<circle cx="1579.0" cy="585.6" r="6.7"/>
<circle cx="1579.0" cy="581.8" r="6.7"/>
<circle cx="1579.1" cy="578.5" r="6.7"/>
<circle cx="1579.1" cy="574.2" r="6.7"/>
<circle cx="1605.5" cy="688.3" r="6.7"/>
<circle cx="1605.8" cy="687.1" r="6.7"/>
<circle cx="1606.1" cy="685.9" r="6.7"/>
<circle cx="1606.4" cy="684.7" r="6.7"/>
<circle cx="1606.7" cy="683.5" r="6.7"/>
<circle cx="1605.4" cy="571.0" r="6.7"/>
<circle cx="1605.4" cy="575.1" r="6.7"/>
<circle cx="1605.4" cy="578.8" r="6.7"/>
<circle cx="1605.4" cy="582.5" r="6.7"/>
<circle cx="1605.4" cy="588.0" r="6.7"/>
<circle cx="1605.4" cy="592.1" r="6.7"/>
<circle cx="1605.4" cy="596.5" r="6.7"/>
<circle cx="1605.4" cy="600.9" r="6.7"/>
<circle cx="1605.4" cy="604.1" r="6.7"/>
<circle cx="1605.4" cy="609.2" r="6.7"/>
<circle cx="1605.4" cy="614.2" r="6.7"/>
<circle cx="1605.4" cy="619.6" r="6.7"/>
<circle cx="1605.4" cy="623.6" r="6.7"/>
<circle cx="1605.4" cy="627.2" r="6.7"/>
<circle cx="1605.5" cy="631.2" r="6.7"/>
<circle cx="1605.5" cy="636.3" r="6.7"/>
<circle cx="1605.5" cy="641.1" r="6.7"/>
<circle cx="1605.5" cy="645.2" r="6.7"/>
<circle cx="1605.5" cy="649.7" r="6.7"/>
<circle cx="1605.5" cy="653.2" r="6.7"/>
<circle cx="1605.5" cy="658.7" r="6.7"/>
<circle cx="1605.5" cy="663.0" r="6.7"/>
<circle cx="1605.5" cy="667.4" r="6.7"/>
<circle cx="1605.5" cy="672.6" r="6.7"/>
<circle cx="1605.5" cy="676.2" r="6.7"/>
<circle cx="1605.5" cy="681.2" r="6.7"/>
<circle cx="1605.5" cy="685.2" r="6.7"/>
<circle cx="1605.6" cy="687.7" r="6.7"/>
<circle cx="1607.4" cy="683.6" r="6.7"/>
<circle cx="1608.4" cy="679.7" r="6.7"/>
<circle cx="1608.9" cy="676.6" r="6.7"/>
<circle cx="1609.5" cy="671.8" r="6.7"/>
<circle cx="1609.6" cy="668.8" r="6.7"/>
<circle cx="1609.7" cy="665.9" r="6.7"/>
<circle cx="1609.8" cy="662.2" r="6.7"/>
<circle cx="1609.9" cy="659.5" r="6.7"/>
<circle cx="1610.1" cy="655.8" r="6.7"/>
<circle cx="1610.1" cy="652.2" r="6.7"/>
<circle cx="1610.2" cy="647.3" r="6.7"/>
<circle cx="1610.2" cy="643.7" r="6.7"/>
<circle cx="1610.2" cy="639.1" r="6.7"/>
<circle cx="1610.2" cy="634.7" r="6.7"/>
<circle cx="1610.3" cy="630.7" r="6.7"/>
<circle cx="1610.3" cy="627.5" r="6.7"/>
<circle cx="1610.3" cy="624.2" r="6.7"/>
<circle cx="1610.4" cy="620.4" r="6.7"/>
<circle cx="1610.4" cy="616.8" r="6.7"/>
<circle cx="1610.4" cy="612.7" r="6.7"/>
<circle cx="1610.4" cy="608.9" r="6.7"/>
<circle cx="1610.5" cy="605.5" r="6.7"/>
<circle cx="1610.5" cy="601.4" r="6.7"/>
<circle cx="1610.5" cy="596.5" r="6.7"/>
<circle cx="1610.5" cy="593.4" r="6.7"/>
<circle cx="1610.6" cy="590.0" r="6.7"/>
<circle cx="1610.6" cy="587.3" r="6.7"/>
<circle cx="1610.6" cy="584.4" r="6.7"/>
<circle cx="1610.6" cy="581.6" r="6.7"/>
<circle cx="1610.6" cy="578.0" r="6.7"/>
<circle cx="1610.6" cy="573.4" r="6.7"/>
<circle cx="1635.8" cy="637.4" r="6.7"/>
<circle cx="1636.1" cy="636.2" r="6.7"/>
<circle cx="1636.4" cy="635.0" r="6.7"/>
<circle cx="1636.7" cy="633.8" r="6.7"/>
<circle cx="1637.0" cy="632.6" r="6.7"/>
<circle cx="1635.7" cy="571.0" r="6.7"/>
<circle cx="1635.7" cy="574.7" r="6.7"/>
<circle cx="1635.7" cy="579.6" r="6.7"/>
<circle cx="1635.7" cy="584.5" r="6.7"/>
<circle cx="1635.7" cy="587.9" r="6.7"/>
<circle cx="1635.7" cy="593.0" r="6.7"/>
<circle cx="1635.7" cy="598.1" r="6.7"/>
<circle cx="1635.7" cy="602.0" r="6.7"/>
<circle cx="1635.8" cy="605.4" r="6.7"/>
<circle cx="1635.8" cy="609.2" r="6.7"/>
<circle cx="1635.8" cy="614.3" r="6.7"/>
<circle cx="1635.8" cy="618.6" r="6.7"/>
<circle cx="1635.8" cy="623.9" r="6.7"/>
<circle cx="1635.8" cy="627.4" r="6.7"/>
<circle cx="1635.8" cy="630.7" r="6.7"/>
<circle cx="1635.8" cy="634.7" r="6.7"/>
<circle cx="1635.9" cy="636.8" r="6.7"/>
<circle cx="1637.4" cy="633.4" r="6.7"/>
<circle cx="1638.6" cy="628.8" r="6.7"/>
<circle cx="1639.2" cy="625.4" r="6.7"/>
<circle cx="1639.7" cy="621.9" r="6.7"/>
<circle cx="1639.9" cy="617.0" r="6.7"/>
<circle cx="1640.1" cy="613.6" r="6.7"/>
<circle cx="1640.3" cy="608.7" r="6.7"/>
<circle cx="1640.4" cy="604.0" r="6.7"/>
<circle cx="1640.4" cy="600.9" r="6.7"/>
<circle cx="1640.4" cy="597.0" r="6.7"/>
<circle cx="1640.5" cy="592.2" r="6.7"/>
<circle cx="1640.5" cy="589.3" r="6.7"/>
<circle cx="1640.5" cy="584.7" r="6.7"/>
<circle cx="1640.5" cy="580.3" r="6.7"/>
<circle cx="1640.5" cy="575.9" r="6.7"/>
<circle cx="1640.6" cy="571.9" r="6.7"/>
<circle cx="1665.6" cy="572.6" r="6.7"/>
<circle cx="1665.9" cy="571.4" r="6.7"/>
<circle cx="1665.5" cy="571.0" r="6.7"/>
<circle cx="1665.5" cy="572.8" r="6.7"/>
</g>
<g stroke="#008000" fill="none" stroke-linecap="round">
<path d="M876.4 599V630M930.7 640V630" stroke-width="2"/>
<path d="M876.4 629.3V639M876.4 658.5V764.4M930.7 629.3V637M930.7 658.5V764.4" stroke-width="12.8"/>
<path d="M876.4 642V656M930.7 640V656" stroke-width="12.8" stroke-opacity=".72"/>
</g>
<g font-size="17.4">
<text transform="translate(561 915) rotate(-80)" textLength="34.6" lengthAdjust="spacingAndGlyphs">n=1</text>
<text transform="translate(615.6 878.5) rotate(-80)" textLength="34.6" lengthAdjust="spacingAndGlyphs">n=2</text>
<text transform="translate(668.6 846.3) rotate(-80)" textLength="34.6" lengthAdjust="spacingAndGlyphs">n=3</text>
<text transform="translate(724.4 805) rotate(-80)" textLength="34.6" lengthAdjust="spacingAndGlyphs">n=4</text>
<text transform="translate(779.4 767.5) rotate(-80)" textLength="34.6" lengthAdjust="spacingAndGlyphs">n=5</text>
<text transform="translate(835 720.5) rotate(-80)" textLength="34.6" lengthAdjust="spacingAndGlyphs">n=6</text>
<text transform="translate(889.2 670) rotate(-80)" textLength="34.6" lengthAdjust="spacingAndGlyphs">n=7</text>
<text transform="translate(943.5 620.1) rotate(-80)" textLength="34.6" lengthAdjust="spacingAndGlyphs">n=8</text>
<text transform="translate(996.6 571.5) rotate(-80)" textLength="34.6" lengthAdjust="spacingAndGlyphs">n=9</text>
<text transform="translate(1047.6 513.5) rotate(-80)" textLength="45.1" lengthAdjust="spacingAndGlyphs">n=10</text>
<text transform="translate(1098.2 440) rotate(-80)" textLength="45.1" lengthAdjust="spacingAndGlyphs">n=11</text>
<text transform="translate(1194.4 293.5) rotate(-80)" textLength="45.1" lengthAdjust="spacingAndGlyphs">n=12</text>
<text transform="translate(1240.9 209.5) rotate(-80)" textLength="45.1" lengthAdjust="spacingAndGlyphs">n=13</text>
</g>
</g>
<rect x="250.5" y="144.5" width="1550.0" height="924.0" fill="none" stroke="#000" stroke-width="1.1"/>
<path d="M270.5 1068.0v11.1M321.7 1068.0v16.7M372.9 1068.0v11.1M424.1 1068.0v11.1M475.3 1068.0v11.1M526.5 1068.0v16.7M577.7 1068.0v11.1M628.9 1068.0v11.1M680.1 1068.0v11.1M731.3 1068.0v16.7M782.5 1068.0v11.1M833.7 1068.0v11.1M884.9 1068.0v11.1M936.1 1068.0v16.7M987.3 1068.0v11.1M1038.5 1068.0v11.1M1089.7 1068.0v11.1M1140.9 1068.0v16.7M1192.1 1068.0v11.1M1243.3 1068.0v11.1M1294.5 1068.0v11.1M1345.7 1068.0v16.7M1396.9 1068.0v11.1M1448.1 1068.0v11.1M1499.3 1068.0v11.1M1550.5 1068.0v16.7M1601.7 1068.0v11.1M1652.9 1068.0v11.1M1704.1 1068.0v11.1M1755.3 1068.0v16.7M250.0 1056.0h-11.1M250.0 1008.0h-11.1M250.0 960.0h-11.1M250.0 913.0h-16.7M250.0 864.0h-11.1M250.0 816.0h-11.1M250.0 768.0h-11.1M250.0 720.0h-16.7M250.0 672.0h-11.1M250.0 624.0h-11.1M250.0 576.0h-11.1M250.0 528.0h-16.7M250.0 480.0h-11.1M250.0 432.0h-11.1M250.0 384.0h-11.1M250.0 336.0h-16.7M250.0 288.0h-11.1M250.0 240.0h-11.1M250.0 192.0h-11.1M250.0 144.0h-16.7" stroke="#000" stroke-width="5.6" fill="none"/>
<text x="322.2" y="1117.4" font-size="36.8" text-anchor="middle" textLength="126.4" lengthAdjust="spacingAndGlyphs">1033.2</text>
<text x="527" y="1117.4" font-size="36.8" text-anchor="middle" textLength="126.4" lengthAdjust="spacingAndGlyphs">1033.4</text>
<text x="731.8" y="1117.4" font-size="36.8" text-anchor="middle" textLength="126.4" lengthAdjust="spacingAndGlyphs">1033.6</text>
<text x="936.6" y="1117.4" font-size="36.8" text-anchor="middle" textLength="126.4" lengthAdjust="spacingAndGlyphs">1033.8</text>
<text x="1141.4" y="1117.4" font-size="36.8" text-anchor="middle" textLength="126.4" lengthAdjust="spacingAndGlyphs">1034.0</text>
<text x="1346.2" y="1117.4" font-size="36.8" text-anchor="middle" textLength="126.4" lengthAdjust="spacingAndGlyphs">1034.2</text>
<text x="1551" y="1117.4" font-size="36.8" text-anchor="middle" textLength="126.4" lengthAdjust="spacingAndGlyphs">1034.4</text>
<text x="1755.8" y="1117.4" font-size="36.8" text-anchor="middle" textLength="126.4" lengthAdjust="spacingAndGlyphs">1034.6</text>
<text x="227.6" y="927.2" font-size="36.8" text-anchor="end" textLength="68.6" lengthAdjust="spacingAndGlyphs">200</text>
<text x="227.6" y="734.2" font-size="36.8" text-anchor="end" textLength="68.6" lengthAdjust="spacingAndGlyphs">400</text>
<text x="227.6" y="542.2" font-size="36.8" text-anchor="end" textLength="68.6" lengthAdjust="spacingAndGlyphs">600</text>
<text x="227.6" y="350.2" font-size="36.8" text-anchor="end" textLength="68.6" lengthAdjust="spacingAndGlyphs">800</text>
<text x="227.6" y="158.2" font-size="36.8" text-anchor="end" textLength="91.5" lengthAdjust="spacingAndGlyphs">1000</text>
<text x="1024.5" y="1171.8" font-size="58.1" text-anchor="middle" textLength="272.1" lengthAdjust="spacingAndGlyphs">Age (Myr)</text>
<text transform="translate(118.6 606) rotate(-90)" font-size="58.1" text-anchor="middle" textLength="466.7" lengthAdjust="spacingAndGlyphs">FM period (days)</text>
<rect x="263.9" y="157.6" width="534.6" height="291" rx="4.5" fill="#fff" fill-opacity=".8" stroke="#ccc" stroke-width="1.4"/>
<path d="M272.4 177H324.4" stroke="#000" stroke-width="2.1"/>
<circle cx="298.4" cy="177" r="2.3" fill="#000"/>
<path d="M271.4 214.2H325.4" stroke="#0000ff" stroke-width="4.2"/>
<path d="M271.4 251H325.4" stroke="#008000" stroke-width="4.2"/>
<path d="M272.7 287.4H324.09999999999997" stroke="#ffa500" stroke-width="1.5"/>
<circle cx="298.4" cy="324.5" r="4.2" fill="#90ee90"/>
<path d="M272.4 360.2H324.4" stroke="#ff0000" stroke-width="2.1"/>
<polygon points="298.40,339.40 303.07,353.77 318.18,353.77 305.96,362.66 310.63,377.03 298.40,368.14 286.17,377.03 290.84,362.66 278.62,353.77 293.73,353.77" fill="#ff0000" stroke="#ff0000" stroke-width="1.4" stroke-linejoin="bevel"/>
<circle cx="298.4" cy="413.3" r="7" fill="#ffff00" fill-opacity=".22" stroke="#ffff00" stroke-opacity=".22" stroke-width="1.4"/>
<text x="342.4" y="186" font-size="26.2" text-anchor="start" textLength="292" lengthAdjust="spacingAndGlyphs">m2.10_z0.0400_y0.333</text>
<text x="342.4" y="222.8" font-size="26.2" text-anchor="start" textLength="406.9" lengthAdjust="spacingAndGlyphs">peak detector horizontal bounds</text>
<text x="342.4" y="259.5" font-size="26.2" text-anchor="start" textLength="444.6" lengthAdjust="spacingAndGlyphs">min. P consistent with observations</text>
<text x="342.4" y="296.2" font-size="26.2" text-anchor="start" textLength="407.7" lengthAdjust="spacingAndGlyphs">max. P must fall within this span</text>
<text x="342.4" y="332.9" font-size="26.2" text-anchor="start" textLength="405.2" lengthAdjust="spacingAndGlyphs">pulse region fit with cubic spline</text>
<text x="342.4" y="369.4" font-size="26.2" text-anchor="start" textLength="205.8" lengthAdjust="spacingAndGlyphs">pulses identified</text>
<text x="342.4" y="406.1" font-size="26.2" text-anchor="start" textLength="278.5" lengthAdjust="spacingAndGlyphs">intersection w/ P,L,T,R</text>
<text x="342.4" y="433.6" font-size="26.2" text-anchor="start" textLength="189.7" lengthAdjust="spacingAndGlyphs">loosely defined</text>
</svg></body></html>
